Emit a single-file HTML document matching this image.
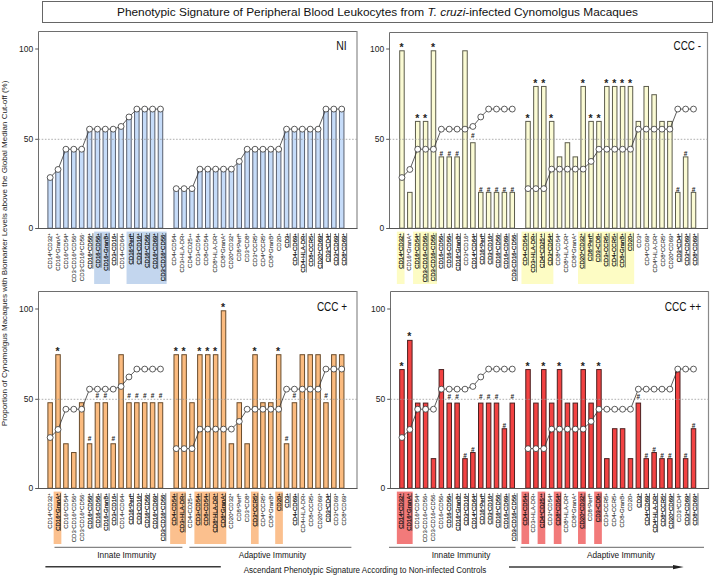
<!DOCTYPE html>
<html><head><meta charset="utf-8"><style>
html,body{margin:0;padding:0;background:#fff;width:714px;height:575px;overflow:hidden}
svg{display:block}
text{font-family:"Liberation Sans", sans-serif}
</style></head><body>
<svg width="714" height="575" viewBox="0 0 714 575" font-family='"Liberation Sans", sans-serif'>
<rect width="714" height="575" fill="#fff"/>
<rect x="42.5" y="1.5" width="670" height="21" fill="#fff" stroke="#666" stroke-width="1"/>
<text x="117" y="16" font-size="11.8" fill="#111" textLength="521" lengthAdjust="spacingAndGlyphs">Phenotypic Signature of Peripheral Blood Leukocytes from <tspan font-style="italic">T. cruzi</tspan>-infected Cynomolgus Macaques</text>
<text transform="translate(6.8,253.4) rotate(-90)" text-anchor="middle" font-size="7.7" fill="#222" textLength="345.6" lengthAdjust="spacingAndGlyphs">Proportion of Cynomolgus Macaques with Biomarker Levels above the Global Median Cut-off (%)</text>
<rect x="94.15" y="231.60" width="15.80" height="52.40" fill="#c3d6ee"/>
<rect x="126.55" y="231.60" width="40.10" height="52.40" fill="#c3d6ee"/>
<path d="M38.5,228.5 L38.5,31.5 L357,31.5" fill="none" stroke="#6e6e6e" stroke-width="1"/>
<line x1="357" y1="31.0" x2="357" y2="228.5" stroke="#8a8a8a" stroke-width="1.2"/>
<line x1="35.2" y1="228.50" x2="38.5" y2="228.50" stroke="#444" stroke-width="0.9"/>
<text x="33.30" y="231.10" text-anchor="end" font-size="8.5" fill="#222">0</text>
<line x1="35.2" y1="139.30" x2="38.5" y2="139.30" stroke="#444" stroke-width="0.9"/>
<text x="33.30" y="141.90" text-anchor="end" font-size="8.5" fill="#222">50</text>
<line x1="35.2" y1="49.00" x2="38.5" y2="49.00" stroke="#444" stroke-width="0.9"/>
<text x="33.30" y="51.60" text-anchor="end" font-size="8.5" fill="#222">100</text>
<rect x="47.90" y="177.13" width="4.50" height="51.07" fill="#c6dcf9" stroke="#596070" stroke-width="1"/>
<rect x="55.78" y="169.06" width="4.50" height="59.14" fill="#c6dcf9" stroke="#596070" stroke-width="1"/>
<rect x="63.66" y="148.81" width="4.50" height="79.39" fill="#c6dcf9" stroke="#596070" stroke-width="1"/>
<rect x="71.54" y="148.81" width="4.50" height="79.39" fill="#c6dcf9" stroke="#596070" stroke-width="1"/>
<rect x="79.42" y="148.81" width="4.50" height="79.39" fill="#c6dcf9" stroke="#596070" stroke-width="1"/>
<rect x="87.30" y="128.74" width="4.50" height="99.46" fill="#c6dcf9" stroke="#596070" stroke-width="1"/>
<rect x="95.18" y="128.74" width="4.50" height="99.46" fill="#c6dcf9" stroke="#596070" stroke-width="1"/>
<rect x="103.06" y="128.74" width="4.50" height="99.46" fill="#c6dcf9" stroke="#596070" stroke-width="1"/>
<rect x="110.94" y="128.74" width="4.50" height="99.46" fill="#c6dcf9" stroke="#596070" stroke-width="1"/>
<rect x="118.82" y="126.06" width="4.50" height="102.14" fill="#c6dcf9" stroke="#596070" stroke-width="1"/>
<rect x="126.70" y="116.56" width="4.50" height="111.64" fill="#c6dcf9" stroke="#596070" stroke-width="1"/>
<rect x="134.58" y="108.67" width="4.50" height="119.53" fill="#c6dcf9" stroke="#596070" stroke-width="1"/>
<rect x="142.46" y="108.67" width="4.50" height="119.53" fill="#c6dcf9" stroke="#596070" stroke-width="1"/>
<rect x="150.34" y="108.67" width="4.50" height="119.53" fill="#c6dcf9" stroke="#596070" stroke-width="1"/>
<rect x="158.22" y="108.67" width="4.50" height="119.53" fill="#c6dcf9" stroke="#596070" stroke-width="1"/>
<rect x="173.98" y="188.24" width="4.50" height="39.96" fill="#c6dcf9" stroke="#596070" stroke-width="1"/>
<rect x="181.86" y="188.24" width="4.50" height="39.96" fill="#c6dcf9" stroke="#596070" stroke-width="1"/>
<rect x="189.74" y="188.24" width="4.50" height="39.96" fill="#c6dcf9" stroke="#596070" stroke-width="1"/>
<rect x="197.62" y="168.71" width="4.50" height="59.49" fill="#c6dcf9" stroke="#596070" stroke-width="1"/>
<rect x="205.50" y="168.71" width="4.50" height="59.49" fill="#c6dcf9" stroke="#596070" stroke-width="1"/>
<rect x="213.38" y="168.71" width="4.50" height="59.49" fill="#c6dcf9" stroke="#596070" stroke-width="1"/>
<rect x="221.26" y="168.71" width="4.50" height="59.49" fill="#c6dcf9" stroke="#596070" stroke-width="1"/>
<rect x="229.14" y="168.71" width="4.50" height="59.49" fill="#c6dcf9" stroke="#596070" stroke-width="1"/>
<rect x="237.02" y="161.00" width="4.50" height="67.20" fill="#c6dcf9" stroke="#596070" stroke-width="1"/>
<rect x="244.90" y="148.81" width="4.50" height="79.39" fill="#c6dcf9" stroke="#596070" stroke-width="1"/>
<rect x="252.78" y="148.81" width="4.50" height="79.39" fill="#c6dcf9" stroke="#596070" stroke-width="1"/>
<rect x="260.66" y="148.81" width="4.50" height="79.39" fill="#c6dcf9" stroke="#596070" stroke-width="1"/>
<rect x="268.54" y="148.81" width="4.50" height="79.39" fill="#c6dcf9" stroke="#596070" stroke-width="1"/>
<rect x="276.42" y="148.81" width="4.50" height="79.39" fill="#c6dcf9" stroke="#596070" stroke-width="1"/>
<rect x="284.30" y="128.74" width="4.50" height="99.46" fill="#c6dcf9" stroke="#596070" stroke-width="1"/>
<rect x="292.18" y="128.74" width="4.50" height="99.46" fill="#c6dcf9" stroke="#596070" stroke-width="1"/>
<rect x="300.06" y="128.74" width="4.50" height="99.46" fill="#c6dcf9" stroke="#596070" stroke-width="1"/>
<rect x="307.94" y="128.74" width="4.50" height="99.46" fill="#c6dcf9" stroke="#596070" stroke-width="1"/>
<rect x="315.82" y="128.74" width="4.50" height="99.46" fill="#c6dcf9" stroke="#596070" stroke-width="1"/>
<rect x="323.70" y="108.67" width="4.50" height="119.53" fill="#c6dcf9" stroke="#596070" stroke-width="1"/>
<rect x="331.58" y="108.67" width="4.50" height="119.53" fill="#c6dcf9" stroke="#596070" stroke-width="1"/>
<rect x="339.46" y="108.67" width="4.50" height="119.53" fill="#c6dcf9" stroke="#596070" stroke-width="1"/>
<line x1="38.5" y1="139.30" x2="357" y2="139.30" stroke="#9a9a9a" stroke-width="0.8" stroke-dasharray="1.6,1.6"/>
<line x1="38.0" y1="228.5" x2="357.5" y2="228.5" stroke="#555" stroke-width="1"/>
<polyline points="50.15,177.53 58.03,169.46 65.91,149.21 73.79,149.21 81.67,149.21 89.55,129.14 97.43,129.14 105.31,129.14 113.19,129.14 121.07,126.46 128.95,116.96 136.83,109.07 144.71,109.07 152.59,109.07 160.47,109.07" fill="none" stroke="#333" stroke-width="0.8"/>
<circle cx="50.15" cy="177.53" r="2.95" fill="#fff" stroke="#333" stroke-width="0.8"/>
<circle cx="58.03" cy="169.46" r="2.95" fill="#fff" stroke="#333" stroke-width="0.8"/>
<circle cx="65.91" cy="149.21" r="2.95" fill="#fff" stroke="#333" stroke-width="0.8"/>
<circle cx="73.79" cy="149.21" r="2.95" fill="#fff" stroke="#333" stroke-width="0.8"/>
<circle cx="81.67" cy="149.21" r="2.95" fill="#fff" stroke="#333" stroke-width="0.8"/>
<circle cx="89.55" cy="129.14" r="2.95" fill="#fff" stroke="#333" stroke-width="0.8"/>
<circle cx="97.43" cy="129.14" r="2.95" fill="#fff" stroke="#333" stroke-width="0.8"/>
<circle cx="105.31" cy="129.14" r="2.95" fill="#fff" stroke="#333" stroke-width="0.8"/>
<circle cx="113.19" cy="129.14" r="2.95" fill="#fff" stroke="#333" stroke-width="0.8"/>
<circle cx="121.07" cy="126.46" r="2.95" fill="#fff" stroke="#333" stroke-width="0.8"/>
<circle cx="128.95" cy="116.96" r="2.95" fill="#fff" stroke="#333" stroke-width="0.8"/>
<circle cx="136.83" cy="109.07" r="2.95" fill="#fff" stroke="#333" stroke-width="0.8"/>
<circle cx="144.71" cy="109.07" r="2.95" fill="#fff" stroke="#333" stroke-width="0.8"/>
<circle cx="152.59" cy="109.07" r="2.95" fill="#fff" stroke="#333" stroke-width="0.8"/>
<circle cx="160.47" cy="109.07" r="2.95" fill="#fff" stroke="#333" stroke-width="0.8"/>
<polyline points="176.23,188.64 184.11,188.64 191.99,188.64 199.87,169.11 207.75,169.11 215.63,169.11 223.51,169.11 231.39,169.11 239.27,161.40 247.15,149.21 255.03,149.21 262.91,149.21 270.79,149.21 278.67,149.21 286.55,129.14 294.43,129.14 302.31,129.14 310.19,129.14 318.07,129.14 325.95,109.07 333.83,109.07 341.71,109.07" fill="none" stroke="#333" stroke-width="0.8"/>
<circle cx="176.23" cy="188.64" r="2.95" fill="#fff" stroke="#333" stroke-width="0.8"/>
<circle cx="184.11" cy="188.64" r="2.95" fill="#fff" stroke="#333" stroke-width="0.8"/>
<circle cx="191.99" cy="188.64" r="2.95" fill="#fff" stroke="#333" stroke-width="0.8"/>
<circle cx="199.87" cy="169.11" r="2.95" fill="#fff" stroke="#333" stroke-width="0.8"/>
<circle cx="207.75" cy="169.11" r="2.95" fill="#fff" stroke="#333" stroke-width="0.8"/>
<circle cx="215.63" cy="169.11" r="2.95" fill="#fff" stroke="#333" stroke-width="0.8"/>
<circle cx="223.51" cy="169.11" r="2.95" fill="#fff" stroke="#333" stroke-width="0.8"/>
<circle cx="231.39" cy="169.11" r="2.95" fill="#fff" stroke="#333" stroke-width="0.8"/>
<circle cx="239.27" cy="161.40" r="2.95" fill="#fff" stroke="#333" stroke-width="0.8"/>
<circle cx="247.15" cy="149.21" r="2.95" fill="#fff" stroke="#333" stroke-width="0.8"/>
<circle cx="255.03" cy="149.21" r="2.95" fill="#fff" stroke="#333" stroke-width="0.8"/>
<circle cx="262.91" cy="149.21" r="2.95" fill="#fff" stroke="#333" stroke-width="0.8"/>
<circle cx="270.79" cy="149.21" r="2.95" fill="#fff" stroke="#333" stroke-width="0.8"/>
<circle cx="278.67" cy="149.21" r="2.95" fill="#fff" stroke="#333" stroke-width="0.8"/>
<circle cx="286.55" cy="129.14" r="2.95" fill="#fff" stroke="#333" stroke-width="0.8"/>
<circle cx="294.43" cy="129.14" r="2.95" fill="#fff" stroke="#333" stroke-width="0.8"/>
<circle cx="302.31" cy="129.14" r="2.95" fill="#fff" stroke="#333" stroke-width="0.8"/>
<circle cx="310.19" cy="129.14" r="2.95" fill="#fff" stroke="#333" stroke-width="0.8"/>
<circle cx="318.07" cy="129.14" r="2.95" fill="#fff" stroke="#333" stroke-width="0.8"/>
<circle cx="325.95" cy="109.07" r="2.95" fill="#fff" stroke="#333" stroke-width="0.8"/>
<circle cx="333.83" cy="109.07" r="2.95" fill="#fff" stroke="#333" stroke-width="0.8"/>
<circle cx="341.71" cy="109.07" r="2.95" fill="#fff" stroke="#333" stroke-width="0.8"/>
<text transform="translate(51.50,233.20) rotate(-90)" text-anchor="end" font-size="6" fill="#3c3c3c" stroke="#3c3c3c" stroke-width="0.12"><tspan>CD14</tspan><tspan dy="-1.60" font-size="4.20">+</tspan><tspan dy="1.60">CD32</tspan><tspan dy="-1.60" font-size="4.20">+</tspan><tspan dy="1.60"></tspan></text>
<text transform="translate(59.60,233.20) rotate(-90)" text-anchor="end" font-size="6" fill="#3c3c3c" stroke="#3c3c3c" stroke-width="0.12"><tspan>CD16</tspan><tspan dy="-1.60" font-size="4.20">+</tspan><tspan dy="1.60">GranA</tspan><tspan dy="-1.60" font-size="4.20">+</tspan><tspan dy="1.60"></tspan></text>
<text transform="translate(67.70,233.20) rotate(-90)" text-anchor="end" font-size="6" fill="#3c3c3c" stroke="#3c3c3c" stroke-width="0.12"><tspan>CD16</tspan><tspan dy="-1.60" font-size="4.20">+</tspan><tspan dy="1.60">CD54</tspan><tspan dy="-1.60" font-size="4.20">+</tspan><tspan dy="1.60"></tspan></text>
<text transform="translate(75.80,233.20) rotate(-90)" text-anchor="end" font-size="6" fill="#3c3c3c" stroke="#3c3c3c" stroke-width="0.12"><tspan>CD3</tspan><tspan dy="-1.60" font-size="4.20">-</tspan><tspan dy="1.60">CD16</tspan><tspan dy="-1.60" font-size="4.20">+</tspan><tspan dy="1.60">CD56</tspan><tspan dy="-1.60" font-size="4.20">+</tspan><tspan dy="1.60"></tspan></text>
<text transform="translate(83.90,233.20) rotate(-90)" text-anchor="end" font-size="6" fill="#3c3c3c" stroke="#3c3c3c" stroke-width="0.12"><tspan>CD3</tspan><tspan dy="-1.60" font-size="4.20">-</tspan><tspan dy="1.60">CD16</tspan><tspan dy="-1.60" font-size="4.20">+</tspan><tspan dy="1.60">CD56</tspan><tspan dy="-1.60" font-size="4.20">-</tspan><tspan dy="1.60"></tspan></text>
<text transform="translate(92.00,233.20) rotate(-90)" text-anchor="end" font-size="6" fill="#111" stroke="#111" stroke-width="0.2"><tspan>CD16</tspan><tspan dy="-1.60" font-size="4.20">+</tspan><tspan dy="1.60">CD56</tspan><tspan dy="-1.60" font-size="4.20">+</tspan><tspan dy="1.60"></tspan></text><line x1="92.90" y1="233.20" x2="92.90" y2="268.79" stroke="#111" stroke-width="0.6"/>
<text transform="translate(100.10,233.20) rotate(-90)" text-anchor="end" font-size="6" fill="#111" stroke="#111" stroke-width="0.2"><tspan>CD16</tspan><tspan dy="-1.60" font-size="4.20">-</tspan><tspan dy="1.60">CD56</tspan><tspan dy="-1.60" font-size="4.20">+</tspan><tspan dy="1.60"></tspan></text><line x1="101.00" y1="233.20" x2="101.00" y2="267.73" stroke="#111" stroke-width="0.6"/>
<text transform="translate(108.20,233.20) rotate(-90)" text-anchor="end" font-size="6" fill="#111" stroke="#111" stroke-width="0.2"><tspan>CD16</tspan><tspan dy="-1.60" font-size="4.20">+</tspan><tspan dy="1.60">GranB</tspan><tspan dy="-1.60" font-size="4.20">+</tspan><tspan dy="1.60"></tspan></text><line x1="109.10" y1="233.20" x2="109.10" y2="270.79" stroke="#111" stroke-width="0.6"/>
<text transform="translate(116.30,233.20) rotate(-90)" text-anchor="end" font-size="6" fill="#111" stroke="#111" stroke-width="0.2"><tspan>CD3</tspan><tspan dy="-1.60" font-size="4.20">+</tspan><tspan dy="1.60">CD16</tspan><tspan dy="-1.60" font-size="4.20">+</tspan><tspan dy="1.60"></tspan></text><line x1="117.20" y1="233.20" x2="117.20" y2="265.45" stroke="#111" stroke-width="0.6"/>
<text transform="translate(124.40,233.20) rotate(-90)" text-anchor="end" font-size="6" fill="#3c3c3c" stroke="#3c3c3c" stroke-width="0.12"><tspan>CD14</tspan><tspan dy="-1.60" font-size="4.20">+</tspan><tspan dy="1.60">CD64</tspan><tspan dy="-1.60" font-size="4.20">+</tspan><tspan dy="1.60"></tspan></text>
<text transform="translate(132.50,233.20) rotate(-90)" text-anchor="end" font-size="6" fill="#111" stroke="#111" stroke-width="0.2"><tspan>CD16</tspan><tspan dy="-1.60" font-size="4.20">+</tspan><tspan dy="1.60">Perf</tspan><tspan dy="-1.60" font-size="4.20">+</tspan><tspan dy="1.60"></tspan></text><line x1="133.40" y1="233.20" x2="133.40" y2="264.45" stroke="#111" stroke-width="0.6"/>
<text transform="translate(140.60,233.20) rotate(-90)" text-anchor="end" font-size="6" fill="#111" stroke="#111" stroke-width="0.2"><tspan>CD3</tspan><tspan dy="-1.60" font-size="4.20">-</tspan><tspan dy="1.60">CD16</tspan><tspan dy="-1.60" font-size="4.20">+</tspan><tspan dy="1.60"></tspan></text><line x1="141.50" y1="233.20" x2="141.50" y2="264.39" stroke="#111" stroke-width="0.6"/>
<text transform="translate(148.70,233.20) rotate(-90)" text-anchor="end" font-size="6" fill="#111" stroke="#111" stroke-width="0.2"><tspan>CD16</tspan><tspan dy="-1.60" font-size="4.20">+</tspan><tspan dy="1.60">CD56</tspan><tspan dy="-1.60" font-size="4.20">-</tspan><tspan dy="1.60"></tspan></text><line x1="149.60" y1="233.20" x2="149.60" y2="267.73" stroke="#111" stroke-width="0.6"/>
<text transform="translate(156.80,233.20) rotate(-90)" text-anchor="end" font-size="6" fill="#111" stroke="#111" stroke-width="0.2"><tspan>CD16</tspan><tspan dy="-1.60" font-size="4.20">+</tspan><tspan dy="1.60">CD69</tspan><tspan dy="-1.60" font-size="4.20">+</tspan><tspan dy="1.60"></tspan></text><line x1="157.70" y1="233.20" x2="157.70" y2="268.79" stroke="#111" stroke-width="0.6"/>
<text transform="translate(164.90,233.20) rotate(-90)" text-anchor="end" font-size="6" fill="#111" stroke="#111" stroke-width="0.2"><tspan>CD3</tspan><tspan dy="-1.60" font-size="4.20">-</tspan><tspan dy="1.60">CD16</tspan><tspan dy="-1.60" font-size="4.20">+</tspan><tspan dy="1.60">CD56</tspan><tspan dy="-1.60" font-size="4.20">-</tspan><tspan dy="1.60"></tspan></text><line x1="165.80" y1="233.20" x2="165.80" y2="281.13" stroke="#111" stroke-width="0.6"/>
<text transform="translate(176.10,233.20) rotate(-90)" text-anchor="end" font-size="6" fill="#3c3c3c" stroke="#3c3c3c" stroke-width="0.12"><tspan>CD4</tspan><tspan dy="-1.60" font-size="4.20">+</tspan><tspan dy="1.60">CD54</tspan><tspan dy="-1.60" font-size="4.20">+</tspan><tspan dy="1.60"></tspan></text>
<text transform="translate(184.18,233.20) rotate(-90)" text-anchor="end" font-size="6" fill="#3c3c3c" stroke="#3c3c3c" stroke-width="0.12"><tspan>CD3</tspan><tspan dy="-1.60" font-size="4.20">+</tspan><tspan dy="1.60">HLA-DR</tspan><tspan dy="-1.60" font-size="4.20">+</tspan><tspan dy="1.60"></tspan></text>
<text transform="translate(192.26,233.20) rotate(-90)" text-anchor="end" font-size="6" fill="#3c3c3c" stroke="#3c3c3c" stroke-width="0.12"><tspan>CD4</tspan><tspan dy="-1.60" font-size="4.20">+</tspan><tspan dy="1.60">CD25</tspan><tspan dy="-1.60" font-size="4.20">++</tspan><tspan dy="1.60"></tspan></text>
<text transform="translate(200.34,233.20) rotate(-90)" text-anchor="end" font-size="6" fill="#3c3c3c" stroke="#3c3c3c" stroke-width="0.12"><tspan>CD3</tspan><tspan dy="-1.60" font-size="4.20">+</tspan><tspan dy="1.60">CD54</tspan><tspan dy="-1.60" font-size="4.20">+</tspan><tspan dy="1.60"></tspan></text>
<text transform="translate(208.42,233.20) rotate(-90)" text-anchor="end" font-size="6" fill="#3c3c3c" stroke="#3c3c3c" stroke-width="0.12"><tspan>CD8</tspan><tspan dy="-1.60" font-size="4.20">+</tspan><tspan dy="1.60">CD54</tspan><tspan dy="-1.60" font-size="4.20">+</tspan><tspan dy="1.60"></tspan></text>
<text transform="translate(216.50,233.20) rotate(-90)" text-anchor="end" font-size="6" fill="#3c3c3c" stroke="#3c3c3c" stroke-width="0.12"><tspan>CD8</tspan><tspan dy="-1.60" font-size="4.20">+</tspan><tspan dy="1.60">HLA-DR</tspan><tspan dy="-1.60" font-size="4.20">+</tspan><tspan dy="1.60"></tspan></text>
<text transform="translate(224.58,233.20) rotate(-90)" text-anchor="end" font-size="6" fill="#3c3c3c" stroke="#3c3c3c" stroke-width="0.12"><tspan>CD8</tspan><tspan dy="-1.60" font-size="4.20">+</tspan><tspan dy="1.60">GranA</tspan><tspan dy="-1.60" font-size="4.20">+</tspan><tspan dy="1.60"></tspan></text>
<text transform="translate(232.66,233.20) rotate(-90)" text-anchor="end" font-size="6" fill="#3c3c3c" stroke="#3c3c3c" stroke-width="0.12"><tspan>CD20</tspan><tspan dy="-1.60" font-size="4.20">+</tspan><tspan dy="1.60">CD32</tspan><tspan dy="-1.60" font-size="4.20">+</tspan><tspan dy="1.60"></tspan></text>
<text transform="translate(240.74,233.20) rotate(-90)" text-anchor="end" font-size="6" fill="#3c3c3c" stroke="#3c3c3c" stroke-width="0.12"><tspan>CD8</tspan><tspan dy="-1.60" font-size="4.20">+</tspan><tspan dy="1.60">Perf</tspan><tspan dy="-1.60" font-size="4.20">+</tspan><tspan dy="1.60"></tspan></text>
<text transform="translate(248.82,233.20) rotate(-90)" text-anchor="end" font-size="6" fill="#3c3c3c" stroke="#3c3c3c" stroke-width="0.12"><tspan>CD3</tspan><tspan dy="-1.60" font-size="4.20">+</tspan><tspan dy="1.60">CD8</tspan><tspan dy="-1.60" font-size="4.20">+</tspan><tspan dy="1.60"></tspan></text>
<text transform="translate(256.90,233.20) rotate(-90)" text-anchor="end" font-size="6" fill="#3c3c3c" stroke="#3c3c3c" stroke-width="0.12"><tspan>CD3</tspan><tspan dy="-1.60" font-size="4.20">+</tspan><tspan dy="1.60">CCR5</tspan><tspan dy="-1.60" font-size="4.20">+</tspan><tspan dy="1.60"></tspan></text>
<text transform="translate(264.98,233.20) rotate(-90)" text-anchor="end" font-size="6" fill="#3c3c3c" stroke="#3c3c3c" stroke-width="0.12"><tspan>CD4</tspan><tspan dy="-1.60" font-size="4.20">+</tspan><tspan dy="1.60">CCR5</tspan><tspan dy="-1.60" font-size="4.20">+</tspan><tspan dy="1.60"></tspan></text>
<text transform="translate(273.06,233.20) rotate(-90)" text-anchor="end" font-size="6" fill="#3c3c3c" stroke="#3c3c3c" stroke-width="0.12"><tspan>CD8</tspan><tspan dy="-1.60" font-size="4.20">+</tspan><tspan dy="1.60">GranB</tspan><tspan dy="-1.60" font-size="4.20">+</tspan><tspan dy="1.60"></tspan></text>
<text transform="translate(281.14,233.20) rotate(-90)" text-anchor="end" font-size="6" fill="#3c3c3c" stroke="#3c3c3c" stroke-width="0.12"><tspan>CD20</tspan><tspan dy="-1.60" font-size="4.20">+</tspan><tspan dy="1.60"></tspan></text>
<text transform="translate(289.22,233.20) rotate(-90)" text-anchor="end" font-size="6" fill="#111" stroke="#111" stroke-width="0.2"><tspan>CD3</tspan><tspan dy="-1.60" font-size="4.20">+</tspan><tspan dy="1.60"></tspan></text><line x1="290.12" y1="233.20" x2="290.12" y2="247.66" stroke="#111" stroke-width="0.6"/>
<text transform="translate(297.30,233.20) rotate(-90)" text-anchor="end" font-size="6" fill="#111" stroke="#111" stroke-width="0.2"><tspan>CD4</tspan><tspan dy="-1.60" font-size="4.20">+</tspan><tspan dy="1.60">CD69</tspan><tspan dy="-1.60" font-size="4.20">+</tspan><tspan dy="1.60"></tspan></text><line x1="298.20" y1="233.20" x2="298.20" y2="265.45" stroke="#111" stroke-width="0.6"/>
<text transform="translate(305.38,233.20) rotate(-90)" text-anchor="end" font-size="6" fill="#111" stroke="#111" stroke-width="0.2"><tspan>CD4</tspan><tspan dy="-1.60" font-size="4.20">+</tspan><tspan dy="1.60">HLA-DR</tspan><tspan dy="-1.60" font-size="4.20">+</tspan><tspan dy="1.60"></tspan></text><line x1="306.28" y1="233.20" x2="306.28" y2="272.44" stroke="#111" stroke-width="0.6"/>
<text transform="translate(313.46,233.20) rotate(-90)" text-anchor="end" font-size="6" fill="#111" stroke="#111" stroke-width="0.2"><tspan>CD8</tspan><tspan dy="-1.60" font-size="4.20">+</tspan><tspan dy="1.60">CCR5</tspan><tspan dy="-1.60" font-size="4.20">+</tspan><tspan dy="1.60"></tspan></text><line x1="314.36" y1="233.20" x2="314.36" y2="266.44" stroke="#111" stroke-width="0.6"/>
<text transform="translate(321.54,233.20) rotate(-90)" text-anchor="end" font-size="6" fill="#111" stroke="#111" stroke-width="0.2"><tspan>CD20</tspan><tspan dy="-1.60" font-size="4.20">+</tspan><tspan dy="1.60">CD69</tspan><tspan dy="-1.60" font-size="4.20">+</tspan><tspan dy="1.60"></tspan></text><line x1="322.44" y1="233.20" x2="322.44" y2="268.79" stroke="#111" stroke-width="0.6"/>
<text transform="translate(329.62,233.20) rotate(-90)" text-anchor="end" font-size="6" fill="#111" stroke="#111" stroke-width="0.2"><tspan>CD3</tspan><tspan dy="-1.60" font-size="4.20">+</tspan><tspan dy="1.60">CD4</tspan><tspan dy="-1.60" font-size="4.20">+</tspan><tspan dy="1.60"></tspan></text><line x1="330.52" y1="233.20" x2="330.52" y2="262.11" stroke="#111" stroke-width="0.6"/>
<text transform="translate(337.70,233.20) rotate(-90)" text-anchor="end" font-size="6" fill="#111" stroke="#111" stroke-width="0.2"><tspan>CD3</tspan><tspan dy="-1.60" font-size="4.20">+</tspan><tspan dy="1.60">CD69</tspan><tspan dy="-1.60" font-size="4.20">+</tspan><tspan dy="1.60"></tspan></text><line x1="338.60" y1="233.20" x2="338.60" y2="265.45" stroke="#111" stroke-width="0.6"/>
<text transform="translate(345.78,233.20) rotate(-90)" text-anchor="end" font-size="6" fill="#111" stroke="#111" stroke-width="0.2"><tspan>CD8</tspan><tspan dy="-1.60" font-size="4.20">+</tspan><tspan dy="1.60">CD69</tspan><tspan dy="-1.60" font-size="4.20">+</tspan><tspan dy="1.60"></tspan></text><line x1="346.68" y1="233.20" x2="346.68" y2="265.45" stroke="#111" stroke-width="0.6"/>
<text x="336.2" y="50.4" font-size="12.2" fill="#111" textLength="10.5" lengthAdjust="spacingAndGlyphs">NI</text>
<rect x="396.85" y="231.60" width="7.70" height="52.40" fill="#fdfcc4"/>
<rect x="413.05" y="231.60" width="23.90" height="52.40" fill="#fdfcc4"/>
<rect x="521.46" y="231.60" width="31.92" height="52.40" fill="#fdfcc4"/>
<rect x="578.02" y="231.60" width="56.16" height="52.40" fill="#fdfcc4"/>
<path d="M389.5,228.5 L389.5,32.5 L707.5,32.5" fill="none" stroke="#6e6e6e" stroke-width="1"/>
<line x1="707.5" y1="32.0" x2="707.5" y2="228.5" stroke="#8a8a8a" stroke-width="1.2"/>
<line x1="386.2" y1="228.50" x2="389.5" y2="228.50" stroke="#444" stroke-width="0.9"/>
<text x="384.30" y="231.10" text-anchor="end" font-size="8.5" fill="#222">0</text>
<line x1="386.2" y1="139.30" x2="389.5" y2="139.30" stroke="#444" stroke-width="0.9"/>
<text x="384.30" y="141.90" text-anchor="end" font-size="8.5" fill="#222">50</text>
<line x1="386.2" y1="49.00" x2="389.5" y2="49.00" stroke="#444" stroke-width="0.9"/>
<text x="384.30" y="51.60" text-anchor="end" font-size="8.5" fill="#222">100</text>
<rect x="399.70" y="50.79" width="4.50" height="177.41" fill="#fbfbd4" stroke="#5c5c4c" stroke-width="1"/>
<text x="401.45" y="50.89" text-anchor="middle" font-size="10.5" font-weight="bold" fill="#222">*</text>
<rect x="407.58" y="192.36" width="4.50" height="35.84" fill="#fbfbd4" stroke="#5c5c4c" stroke-width="1"/>
<rect x="415.46" y="121.40" width="4.50" height="106.80" fill="#fbfbd4" stroke="#5c5c4c" stroke-width="1"/>
<text x="417.21" y="121.50" text-anchor="middle" font-size="10.5" font-weight="bold" fill="#222">*</text>
<rect x="423.34" y="121.40" width="4.50" height="106.80" fill="#fbfbd4" stroke="#5c5c4c" stroke-width="1"/>
<text x="425.09" y="121.50" text-anchor="middle" font-size="10.5" font-weight="bold" fill="#222">*</text>
<rect x="431.22" y="50.79" width="4.50" height="177.41" fill="#fbfbd4" stroke="#5c5c4c" stroke-width="1"/>
<text x="432.97" y="50.89" text-anchor="middle" font-size="10.5" font-weight="bold" fill="#222">*</text>
<rect x="439.10" y="156.88" width="4.50" height="71.32" fill="#fbfbd4" stroke="#5c5c4c" stroke-width="1"/>
<text x="441.35" y="156.38" text-anchor="middle" font-size="6.5" font-weight="bold" fill="#222">#</text>
<rect x="446.98" y="156.88" width="4.50" height="71.32" fill="#fbfbd4" stroke="#5c5c4c" stroke-width="1"/>
<text x="449.23" y="156.38" text-anchor="middle" font-size="6.5" font-weight="bold" fill="#222">#</text>
<rect x="454.86" y="156.88" width="4.50" height="71.32" fill="#fbfbd4" stroke="#5c5c4c" stroke-width="1"/>
<text x="457.11" y="156.38" text-anchor="middle" font-size="6.5" font-weight="bold" fill="#222">#</text>
<rect x="462.74" y="50.79" width="4.50" height="177.41" fill="#fbfbd4" stroke="#5c5c4c" stroke-width="1"/>
<rect x="470.62" y="142.72" width="4.50" height="85.48" fill="#fbfbd4" stroke="#5c5c4c" stroke-width="1"/>
<text x="472.87" y="138.22" text-anchor="middle" font-size="6.5" font-weight="bold" fill="#222">#</text>
<rect x="478.50" y="192.36" width="4.50" height="35.84" fill="#fbfbd4" stroke="#5c5c4c" stroke-width="1"/>
<text x="480.75" y="191.86" text-anchor="middle" font-size="6.5" font-weight="bold" fill="#222">#</text>
<rect x="486.38" y="192.36" width="4.50" height="35.84" fill="#fbfbd4" stroke="#5c5c4c" stroke-width="1"/>
<text x="488.63" y="191.86" text-anchor="middle" font-size="6.5" font-weight="bold" fill="#222">#</text>
<rect x="494.26" y="192.36" width="4.50" height="35.84" fill="#fbfbd4" stroke="#5c5c4c" stroke-width="1"/>
<text x="496.51" y="191.86" text-anchor="middle" font-size="6.5" font-weight="bold" fill="#222">#</text>
<rect x="502.14" y="192.36" width="4.50" height="35.84" fill="#fbfbd4" stroke="#5c5c4c" stroke-width="1"/>
<text x="504.39" y="191.86" text-anchor="middle" font-size="6.5" font-weight="bold" fill="#222">#</text>
<rect x="510.02" y="192.36" width="4.50" height="35.84" fill="#fbfbd4" stroke="#5c5c4c" stroke-width="1"/>
<text x="512.27" y="191.86" text-anchor="middle" font-size="6.5" font-weight="bold" fill="#222">#</text>
<rect x="525.78" y="121.40" width="4.50" height="106.80" fill="#fbfbd4" stroke="#5c5c4c" stroke-width="1"/>
<text x="527.53" y="121.50" text-anchor="middle" font-size="10.5" font-weight="bold" fill="#222">*</text>
<rect x="533.66" y="86.45" width="4.50" height="141.75" fill="#fbfbd4" stroke="#5c5c4c" stroke-width="1"/>
<text x="535.41" y="86.55" text-anchor="middle" font-size="10.5" font-weight="bold" fill="#222">*</text>
<rect x="541.54" y="86.45" width="4.50" height="141.75" fill="#fbfbd4" stroke="#5c5c4c" stroke-width="1"/>
<text x="543.29" y="86.55" text-anchor="middle" font-size="10.5" font-weight="bold" fill="#222">*</text>
<rect x="549.42" y="121.40" width="4.50" height="106.80" fill="#fbfbd4" stroke="#5c5c4c" stroke-width="1"/>
<text x="551.17" y="121.50" text-anchor="middle" font-size="10.5" font-weight="bold" fill="#222">*</text>
<rect x="557.30" y="156.88" width="4.50" height="71.32" fill="#fbfbd4" stroke="#5c5c4c" stroke-width="1"/>
<rect x="565.18" y="142.72" width="4.50" height="85.48" fill="#fbfbd4" stroke="#5c5c4c" stroke-width="1"/>
<rect x="573.06" y="156.88" width="4.50" height="71.32" fill="#fbfbd4" stroke="#5c5c4c" stroke-width="1"/>
<rect x="580.94" y="86.45" width="4.50" height="141.75" fill="#fbfbd4" stroke="#5c5c4c" stroke-width="1"/>
<text x="582.69" y="86.55" text-anchor="middle" font-size="10.5" font-weight="bold" fill="#222">*</text>
<rect x="588.82" y="121.40" width="4.50" height="106.80" fill="#fbfbd4" stroke="#5c5c4c" stroke-width="1"/>
<text x="590.57" y="121.50" text-anchor="middle" font-size="10.5" font-weight="bold" fill="#222">*</text>
<rect x="596.70" y="121.40" width="4.50" height="106.80" fill="#fbfbd4" stroke="#5c5c4c" stroke-width="1"/>
<text x="598.45" y="121.50" text-anchor="middle" font-size="10.5" font-weight="bold" fill="#222">*</text>
<rect x="604.58" y="86.45" width="4.50" height="141.75" fill="#fbfbd4" stroke="#5c5c4c" stroke-width="1"/>
<text x="606.33" y="86.55" text-anchor="middle" font-size="10.5" font-weight="bold" fill="#222">*</text>
<rect x="612.46" y="86.45" width="4.50" height="141.75" fill="#fbfbd4" stroke="#5c5c4c" stroke-width="1"/>
<text x="614.21" y="86.55" text-anchor="middle" font-size="10.5" font-weight="bold" fill="#222">*</text>
<rect x="620.34" y="86.45" width="4.50" height="141.75" fill="#fbfbd4" stroke="#5c5c4c" stroke-width="1"/>
<text x="622.09" y="86.55" text-anchor="middle" font-size="10.5" font-weight="bold" fill="#222">*</text>
<rect x="628.22" y="86.45" width="4.50" height="141.75" fill="#fbfbd4" stroke="#5c5c4c" stroke-width="1"/>
<text x="629.97" y="86.55" text-anchor="middle" font-size="10.5" font-weight="bold" fill="#222">*</text>
<rect x="636.10" y="121.40" width="4.50" height="106.80" fill="#fbfbd4" stroke="#5c5c4c" stroke-width="1"/>
<rect x="643.98" y="86.45" width="4.50" height="141.75" fill="#fbfbd4" stroke="#5c5c4c" stroke-width="1"/>
<rect x="651.86" y="94.70" width="4.50" height="133.50" fill="#fbfbd4" stroke="#5c5c4c" stroke-width="1"/>
<rect x="659.74" y="121.40" width="4.50" height="106.80" fill="#fbfbd4" stroke="#5c5c4c" stroke-width="1"/>
<rect x="667.62" y="121.40" width="4.50" height="106.80" fill="#fbfbd4" stroke="#5c5c4c" stroke-width="1"/>
<rect x="675.50" y="192.36" width="4.50" height="35.84" fill="#fbfbd4" stroke="#5c5c4c" stroke-width="1"/>
<text x="677.75" y="191.86" text-anchor="middle" font-size="6.5" font-weight="bold" fill="#222">#</text>
<rect x="683.38" y="156.88" width="4.50" height="71.32" fill="#fbfbd4" stroke="#5c5c4c" stroke-width="1"/>
<text x="685.63" y="156.38" text-anchor="middle" font-size="6.5" font-weight="bold" fill="#222">#</text>
<rect x="691.26" y="192.36" width="4.50" height="35.84" fill="#fbfbd4" stroke="#5c5c4c" stroke-width="1"/>
<text x="693.51" y="191.86" text-anchor="middle" font-size="6.5" font-weight="bold" fill="#222">#</text>
<line x1="389.5" y1="139.30" x2="707.5" y2="139.30" stroke="#9a9a9a" stroke-width="0.8" stroke-dasharray="1.6,1.6"/>
<line x1="389.0" y1="228.5" x2="708.0" y2="228.5" stroke="#555" stroke-width="1"/>
<polyline points="401.95,177.53 409.83,169.46 417.71,149.21 425.59,149.21 433.47,149.21 441.35,129.14 449.23,129.14 457.11,129.14 464.99,129.14 472.87,126.46 480.75,116.96 488.63,109.07 496.51,109.07 504.39,109.07 512.27,109.07" fill="none" stroke="#333" stroke-width="0.8"/>
<circle cx="401.95" cy="177.53" r="2.95" fill="#fff" stroke="#333" stroke-width="0.8"/>
<circle cx="409.83" cy="169.46" r="2.95" fill="#fff" stroke="#333" stroke-width="0.8"/>
<circle cx="417.71" cy="149.21" r="2.95" fill="#fff" stroke="#333" stroke-width="0.8"/>
<circle cx="425.59" cy="149.21" r="2.95" fill="#fff" stroke="#333" stroke-width="0.8"/>
<circle cx="433.47" cy="149.21" r="2.95" fill="#fff" stroke="#333" stroke-width="0.8"/>
<circle cx="441.35" cy="129.14" r="2.95" fill="#fff" stroke="#333" stroke-width="0.8"/>
<circle cx="449.23" cy="129.14" r="2.95" fill="#fff" stroke="#333" stroke-width="0.8"/>
<circle cx="457.11" cy="129.14" r="2.95" fill="#fff" stroke="#333" stroke-width="0.8"/>
<circle cx="464.99" cy="129.14" r="2.95" fill="#fff" stroke="#333" stroke-width="0.8"/>
<circle cx="472.87" cy="126.46" r="2.95" fill="#fff" stroke="#333" stroke-width="0.8"/>
<circle cx="480.75" cy="116.96" r="2.95" fill="#fff" stroke="#333" stroke-width="0.8"/>
<circle cx="488.63" cy="109.07" r="2.95" fill="#fff" stroke="#333" stroke-width="0.8"/>
<circle cx="496.51" cy="109.07" r="2.95" fill="#fff" stroke="#333" stroke-width="0.8"/>
<circle cx="504.39" cy="109.07" r="2.95" fill="#fff" stroke="#333" stroke-width="0.8"/>
<circle cx="512.27" cy="109.07" r="2.95" fill="#fff" stroke="#333" stroke-width="0.8"/>
<polyline points="528.03,188.64 535.91,188.64 543.79,188.64 551.67,169.11 559.55,169.11 567.43,169.11 575.31,169.11 583.19,169.11 591.07,161.40 598.95,149.21 606.83,149.21 614.71,149.21 622.59,149.21 630.47,149.21 638.35,129.14 646.23,129.14 654.11,129.14 661.99,129.14 669.87,129.14 677.75,109.07 685.63,109.07 693.51,109.07" fill="none" stroke="#333" stroke-width="0.8"/>
<circle cx="528.03" cy="188.64" r="2.95" fill="#fff" stroke="#333" stroke-width="0.8"/>
<circle cx="535.91" cy="188.64" r="2.95" fill="#fff" stroke="#333" stroke-width="0.8"/>
<circle cx="543.79" cy="188.64" r="2.95" fill="#fff" stroke="#333" stroke-width="0.8"/>
<circle cx="551.67" cy="169.11" r="2.95" fill="#fff" stroke="#333" stroke-width="0.8"/>
<circle cx="559.55" cy="169.11" r="2.95" fill="#fff" stroke="#333" stroke-width="0.8"/>
<circle cx="567.43" cy="169.11" r="2.95" fill="#fff" stroke="#333" stroke-width="0.8"/>
<circle cx="575.31" cy="169.11" r="2.95" fill="#fff" stroke="#333" stroke-width="0.8"/>
<circle cx="583.19" cy="169.11" r="2.95" fill="#fff" stroke="#333" stroke-width="0.8"/>
<circle cx="591.07" cy="161.40" r="2.95" fill="#fff" stroke="#333" stroke-width="0.8"/>
<circle cx="598.95" cy="149.21" r="2.95" fill="#fff" stroke="#333" stroke-width="0.8"/>
<circle cx="606.83" cy="149.21" r="2.95" fill="#fff" stroke="#333" stroke-width="0.8"/>
<circle cx="614.71" cy="149.21" r="2.95" fill="#fff" stroke="#333" stroke-width="0.8"/>
<circle cx="622.59" cy="149.21" r="2.95" fill="#fff" stroke="#333" stroke-width="0.8"/>
<circle cx="630.47" cy="149.21" r="2.95" fill="#fff" stroke="#333" stroke-width="0.8"/>
<circle cx="638.35" cy="129.14" r="2.95" fill="#fff" stroke="#333" stroke-width="0.8"/>
<circle cx="646.23" cy="129.14" r="2.95" fill="#fff" stroke="#333" stroke-width="0.8"/>
<circle cx="654.11" cy="129.14" r="2.95" fill="#fff" stroke="#333" stroke-width="0.8"/>
<circle cx="661.99" cy="129.14" r="2.95" fill="#fff" stroke="#333" stroke-width="0.8"/>
<circle cx="669.87" cy="129.14" r="2.95" fill="#fff" stroke="#333" stroke-width="0.8"/>
<circle cx="677.75" cy="109.07" r="2.95" fill="#fff" stroke="#333" stroke-width="0.8"/>
<circle cx="685.63" cy="109.07" r="2.95" fill="#fff" stroke="#333" stroke-width="0.8"/>
<circle cx="693.51" cy="109.07" r="2.95" fill="#fff" stroke="#333" stroke-width="0.8"/>
<text transform="translate(402.80,233.20) rotate(-90)" text-anchor="end" font-size="6" fill="#111" stroke="#111" stroke-width="0.2"><tspan>CD14</tspan><tspan dy="-1.60" font-size="4.20">+</tspan><tspan dy="1.60">CD32</tspan><tspan dy="-1.60" font-size="4.20">+</tspan><tspan dy="1.60"></tspan></text><line x1="403.70" y1="233.20" x2="403.70" y2="268.79" stroke="#111" stroke-width="0.6"/>
<text transform="translate(410.90,233.20) rotate(-90)" text-anchor="end" font-size="6" fill="#3c3c3c" stroke="#3c3c3c" stroke-width="0.12"><tspan>CD16</tspan><tspan dy="-1.60" font-size="4.20">+</tspan><tspan dy="1.60">GranA</tspan><tspan dy="-1.60" font-size="4.20">+</tspan><tspan dy="1.60"></tspan></text>
<text transform="translate(419.00,233.20) rotate(-90)" text-anchor="end" font-size="6" fill="#111" stroke="#111" stroke-width="0.2"><tspan>CD16</tspan><tspan dy="-1.60" font-size="4.20">+</tspan><tspan dy="1.60">CD54</tspan><tspan dy="-1.60" font-size="4.20">+</tspan><tspan dy="1.60"></tspan></text><line x1="419.90" y1="233.20" x2="419.90" y2="268.79" stroke="#111" stroke-width="0.6"/>
<text transform="translate(427.10,233.20) rotate(-90)" text-anchor="end" font-size="6" fill="#111" stroke="#111" stroke-width="0.2"><tspan>CD3</tspan><tspan dy="-1.60" font-size="4.20">-</tspan><tspan dy="1.60">CD16</tspan><tspan dy="-1.60" font-size="4.20">+</tspan><tspan dy="1.60">CD56</tspan><tspan dy="-1.60" font-size="4.20">+</tspan><tspan dy="1.60"></tspan></text><line x1="428.00" y1="233.20" x2="428.00" y2="282.19" stroke="#111" stroke-width="0.6"/>
<text transform="translate(435.20,233.20) rotate(-90)" text-anchor="end" font-size="6" fill="#111" stroke="#111" stroke-width="0.2"><tspan>CD3</tspan><tspan dy="-1.60" font-size="4.20">-</tspan><tspan dy="1.60">CD16</tspan><tspan dy="-1.60" font-size="4.20">+</tspan><tspan dy="1.60">CD56</tspan><tspan dy="-1.60" font-size="4.20">-</tspan><tspan dy="1.60"></tspan></text><line x1="436.10" y1="233.20" x2="436.10" y2="281.13" stroke="#111" stroke-width="0.6"/>
<text transform="translate(443.30,233.20) rotate(-90)" text-anchor="end" font-size="6" fill="#111" stroke="#111" stroke-width="0.2"><tspan>CD16</tspan><tspan dy="-1.60" font-size="4.20">+</tspan><tspan dy="1.60">CD56</tspan><tspan dy="-1.60" font-size="4.20">+</tspan><tspan dy="1.60"></tspan></text><line x1="444.20" y1="233.20" x2="444.20" y2="268.79" stroke="#111" stroke-width="0.6"/>
<text transform="translate(451.40,233.20) rotate(-90)" text-anchor="end" font-size="6" fill="#111" stroke="#111" stroke-width="0.2"><tspan>CD16</tspan><tspan dy="-1.60" font-size="4.20">-</tspan><tspan dy="1.60">CD56</tspan><tspan dy="-1.60" font-size="4.20">+</tspan><tspan dy="1.60"></tspan></text><line x1="452.30" y1="233.20" x2="452.30" y2="267.73" stroke="#111" stroke-width="0.6"/>
<text transform="translate(459.50,233.20) rotate(-90)" text-anchor="end" font-size="6" fill="#111" stroke="#111" stroke-width="0.2"><tspan>CD16</tspan><tspan dy="-1.60" font-size="4.20">+</tspan><tspan dy="1.60">GranB</tspan><tspan dy="-1.60" font-size="4.20">+</tspan><tspan dy="1.60"></tspan></text><line x1="460.40" y1="233.20" x2="460.40" y2="270.79" stroke="#111" stroke-width="0.6"/>
<text transform="translate(467.60,233.20) rotate(-90)" text-anchor="end" font-size="6" fill="#3c3c3c" stroke="#3c3c3c" stroke-width="0.12"><tspan>CD3</tspan><tspan dy="-1.60" font-size="4.20">+</tspan><tspan dy="1.60">CD16</tspan><tspan dy="-1.60" font-size="4.20">+</tspan><tspan dy="1.60"></tspan></text>
<text transform="translate(475.70,233.20) rotate(-90)" text-anchor="end" font-size="6" fill="#111" stroke="#111" stroke-width="0.2"><tspan>CD14</tspan><tspan dy="-1.60" font-size="4.20">+</tspan><tspan dy="1.60">CD64</tspan><tspan dy="-1.60" font-size="4.20">+</tspan><tspan dy="1.60"></tspan></text><line x1="476.60" y1="233.20" x2="476.60" y2="268.79" stroke="#111" stroke-width="0.6"/>
<text transform="translate(483.80,233.20) rotate(-90)" text-anchor="end" font-size="6" fill="#111" stroke="#111" stroke-width="0.2"><tspan>CD16</tspan><tspan dy="-1.60" font-size="4.20">+</tspan><tspan dy="1.60">Perf</tspan><tspan dy="-1.60" font-size="4.20">+</tspan><tspan dy="1.60"></tspan></text><line x1="484.70" y1="233.20" x2="484.70" y2="264.45" stroke="#111" stroke-width="0.6"/>
<text transform="translate(491.90,233.20) rotate(-90)" text-anchor="end" font-size="6" fill="#111" stroke="#111" stroke-width="0.2"><tspan>CD3</tspan><tspan dy="-1.60" font-size="4.20">-</tspan><tspan dy="1.60">CD16</tspan><tspan dy="-1.60" font-size="4.20">+</tspan><tspan dy="1.60"></tspan></text><line x1="492.80" y1="233.20" x2="492.80" y2="264.39" stroke="#111" stroke-width="0.6"/>
<text transform="translate(500.00,233.20) rotate(-90)" text-anchor="end" font-size="6" fill="#111" stroke="#111" stroke-width="0.2"><tspan>CD16</tspan><tspan dy="-1.60" font-size="4.20">+</tspan><tspan dy="1.60">CD56</tspan><tspan dy="-1.60" font-size="4.20">-</tspan><tspan dy="1.60"></tspan></text><line x1="500.90" y1="233.20" x2="500.90" y2="267.73" stroke="#111" stroke-width="0.6"/>
<text transform="translate(508.10,233.20) rotate(-90)" text-anchor="end" font-size="6" fill="#111" stroke="#111" stroke-width="0.2"><tspan>CD16</tspan><tspan dy="-1.60" font-size="4.20">+</tspan><tspan dy="1.60">CD69</tspan><tspan dy="-1.60" font-size="4.20">+</tspan><tspan dy="1.60"></tspan></text><line x1="509.00" y1="233.20" x2="509.00" y2="268.79" stroke="#111" stroke-width="0.6"/>
<text transform="translate(516.20,233.20) rotate(-90)" text-anchor="end" font-size="6" fill="#111" stroke="#111" stroke-width="0.2"><tspan>CD3</tspan><tspan dy="-1.60" font-size="4.20">-</tspan><tspan dy="1.60">CD16</tspan><tspan dy="-1.60" font-size="4.20">+</tspan><tspan dy="1.60">CD56</tspan><tspan dy="-1.60" font-size="4.20">-</tspan><tspan dy="1.60"></tspan></text><line x1="517.10" y1="233.20" x2="517.10" y2="281.13" stroke="#111" stroke-width="0.6"/>
<text transform="translate(527.40,233.20) rotate(-90)" text-anchor="end" font-size="6" fill="#111" stroke="#111" stroke-width="0.2"><tspan>CD4</tspan><tspan dy="-1.60" font-size="4.20">+</tspan><tspan dy="1.60">CD54</tspan><tspan dy="-1.60" font-size="4.20">+</tspan><tspan dy="1.60"></tspan></text><line x1="528.30" y1="233.20" x2="528.30" y2="265.45" stroke="#111" stroke-width="0.6"/>
<text transform="translate(535.48,233.20) rotate(-90)" text-anchor="end" font-size="6" fill="#111" stroke="#111" stroke-width="0.2"><tspan>CD3</tspan><tspan dy="-1.60" font-size="4.20">+</tspan><tspan dy="1.60">HLA-DR</tspan><tspan dy="-1.60" font-size="4.20">+</tspan><tspan dy="1.60"></tspan></text><line x1="536.38" y1="233.20" x2="536.38" y2="272.44" stroke="#111" stroke-width="0.6"/>
<text transform="translate(543.56,233.20) rotate(-90)" text-anchor="end" font-size="6" fill="#111" stroke="#111" stroke-width="0.2"><tspan>CD4</tspan><tspan dy="-1.60" font-size="4.20">+</tspan><tspan dy="1.60">CD25</tspan><tspan dy="-1.60" font-size="4.20">++</tspan><tspan dy="1.60"></tspan></text><line x1="544.46" y1="233.20" x2="544.46" y2="267.90" stroke="#111" stroke-width="0.6"/>
<text transform="translate(551.64,233.20) rotate(-90)" text-anchor="end" font-size="6" fill="#111" stroke="#111" stroke-width="0.2"><tspan>CD3</tspan><tspan dy="-1.60" font-size="4.20">+</tspan><tspan dy="1.60">CD54</tspan><tspan dy="-1.60" font-size="4.20">+</tspan><tspan dy="1.60"></tspan></text><line x1="552.54" y1="233.20" x2="552.54" y2="265.45" stroke="#111" stroke-width="0.6"/>
<text transform="translate(559.72,233.20) rotate(-90)" text-anchor="end" font-size="6" fill="#3c3c3c" stroke="#3c3c3c" stroke-width="0.12"><tspan>CD8</tspan><tspan dy="-1.60" font-size="4.20">+</tspan><tspan dy="1.60">CD54</tspan><tspan dy="-1.60" font-size="4.20">+</tspan><tspan dy="1.60"></tspan></text>
<text transform="translate(567.80,233.20) rotate(-90)" text-anchor="end" font-size="6" fill="#3c3c3c" stroke="#3c3c3c" stroke-width="0.12"><tspan>CD8</tspan><tspan dy="-1.60" font-size="4.20">+</tspan><tspan dy="1.60">HLA-DR</tspan><tspan dy="-1.60" font-size="4.20">+</tspan><tspan dy="1.60"></tspan></text>
<text transform="translate(575.88,233.20) rotate(-90)" text-anchor="end" font-size="6" fill="#3c3c3c" stroke="#3c3c3c" stroke-width="0.12"><tspan>CD8</tspan><tspan dy="-1.60" font-size="4.20">+</tspan><tspan dy="1.60">GranA</tspan><tspan dy="-1.60" font-size="4.20">+</tspan><tspan dy="1.60"></tspan></text>
<text transform="translate(583.96,233.20) rotate(-90)" text-anchor="end" font-size="6" fill="#111" stroke="#111" stroke-width="0.2"><tspan>CD20</tspan><tspan dy="-1.60" font-size="4.20">+</tspan><tspan dy="1.60">CD32</tspan><tspan dy="-1.60" font-size="4.20">+</tspan><tspan dy="1.60"></tspan></text><line x1="584.86" y1="233.20" x2="584.86" y2="268.79" stroke="#111" stroke-width="0.6"/>
<text transform="translate(592.04,233.20) rotate(-90)" text-anchor="end" font-size="6" fill="#111" stroke="#111" stroke-width="0.2"><tspan>CD8</tspan><tspan dy="-1.60" font-size="4.20">+</tspan><tspan dy="1.60">Perf</tspan><tspan dy="-1.60" font-size="4.20">+</tspan><tspan dy="1.60"></tspan></text><line x1="592.94" y1="233.20" x2="592.94" y2="261.11" stroke="#111" stroke-width="0.6"/>
<text transform="translate(600.12,233.20) rotate(-90)" text-anchor="end" font-size="6" fill="#111" stroke="#111" stroke-width="0.2"><tspan>CD3</tspan><tspan dy="-1.60" font-size="4.20">+</tspan><tspan dy="1.60">CD8</tspan><tspan dy="-1.60" font-size="4.20">+</tspan><tspan dy="1.60"></tspan></text><line x1="601.02" y1="233.20" x2="601.02" y2="262.11" stroke="#111" stroke-width="0.6"/>
<text transform="translate(608.20,233.20) rotate(-90)" text-anchor="end" font-size="6" fill="#111" stroke="#111" stroke-width="0.2"><tspan>CD3</tspan><tspan dy="-1.60" font-size="4.20">+</tspan><tspan dy="1.60">CCR5</tspan><tspan dy="-1.60" font-size="4.20">+</tspan><tspan dy="1.60"></tspan></text><line x1="609.10" y1="233.20" x2="609.10" y2="266.44" stroke="#111" stroke-width="0.6"/>
<text transform="translate(616.28,233.20) rotate(-90)" text-anchor="end" font-size="6" fill="#111" stroke="#111" stroke-width="0.2"><tspan>CD4</tspan><tspan dy="-1.60" font-size="4.20">+</tspan><tspan dy="1.60">CCR5</tspan><tspan dy="-1.60" font-size="4.20">+</tspan><tspan dy="1.60"></tspan></text><line x1="617.18" y1="233.20" x2="617.18" y2="266.44" stroke="#111" stroke-width="0.6"/>
<text transform="translate(624.36,233.20) rotate(-90)" text-anchor="end" font-size="6" fill="#111" stroke="#111" stroke-width="0.2"><tspan>CD8</tspan><tspan dy="-1.60" font-size="4.20">+</tspan><tspan dy="1.60">GranB</tspan><tspan dy="-1.60" font-size="4.20">+</tspan><tspan dy="1.60"></tspan></text><line x1="625.26" y1="233.20" x2="625.26" y2="267.45" stroke="#111" stroke-width="0.6"/>
<text transform="translate(632.44,233.20) rotate(-90)" text-anchor="end" font-size="6" fill="#111" stroke="#111" stroke-width="0.2"><tspan>CD20</tspan><tspan dy="-1.60" font-size="4.20">+</tspan><tspan dy="1.60"></tspan></text><line x1="633.34" y1="233.20" x2="633.34" y2="250.99" stroke="#111" stroke-width="0.6"/>
<text transform="translate(640.52,233.20) rotate(-90)" text-anchor="end" font-size="6" fill="#3c3c3c" stroke="#3c3c3c" stroke-width="0.12"><tspan>CD3</tspan><tspan dy="-1.60" font-size="4.20">+</tspan><tspan dy="1.60"></tspan></text>
<text transform="translate(648.60,233.20) rotate(-90)" text-anchor="end" font-size="6" fill="#3c3c3c" stroke="#3c3c3c" stroke-width="0.12"><tspan>CD4</tspan><tspan dy="-1.60" font-size="4.20">+</tspan><tspan dy="1.60">CD69</tspan><tspan dy="-1.60" font-size="4.20">+</tspan><tspan dy="1.60"></tspan></text>
<text transform="translate(656.68,233.20) rotate(-90)" text-anchor="end" font-size="6" fill="#3c3c3c" stroke="#3c3c3c" stroke-width="0.12"><tspan>CD4</tspan><tspan dy="-1.60" font-size="4.20">+</tspan><tspan dy="1.60">HLA-DR</tspan><tspan dy="-1.60" font-size="4.20">+</tspan><tspan dy="1.60"></tspan></text>
<text transform="translate(664.76,233.20) rotate(-90)" text-anchor="end" font-size="6" fill="#3c3c3c" stroke="#3c3c3c" stroke-width="0.12"><tspan>CD8</tspan><tspan dy="-1.60" font-size="4.20">+</tspan><tspan dy="1.60">CCR5</tspan><tspan dy="-1.60" font-size="4.20">+</tspan><tspan dy="1.60"></tspan></text>
<text transform="translate(672.84,233.20) rotate(-90)" text-anchor="end" font-size="6" fill="#3c3c3c" stroke="#3c3c3c" stroke-width="0.12"><tspan>CD20</tspan><tspan dy="-1.60" font-size="4.20">+</tspan><tspan dy="1.60">CD69</tspan><tspan dy="-1.60" font-size="4.20">+</tspan><tspan dy="1.60"></tspan></text>
<text transform="translate(680.92,233.20) rotate(-90)" text-anchor="end" font-size="6" fill="#111" stroke="#111" stroke-width="0.2"><tspan>CD3</tspan><tspan dy="-1.60" font-size="4.20">+</tspan><tspan dy="1.60">CD4</tspan><tspan dy="-1.60" font-size="4.20">+</tspan><tspan dy="1.60"></tspan></text><line x1="681.82" y1="233.20" x2="681.82" y2="262.11" stroke="#111" stroke-width="0.6"/>
<text transform="translate(689.00,233.20) rotate(-90)" text-anchor="end" font-size="6" fill="#111" stroke="#111" stroke-width="0.2"><tspan>CD3</tspan><tspan dy="-1.60" font-size="4.20">+</tspan><tspan dy="1.60">CD69</tspan><tspan dy="-1.60" font-size="4.20">+</tspan><tspan dy="1.60"></tspan></text><line x1="689.90" y1="233.20" x2="689.90" y2="265.45" stroke="#111" stroke-width="0.6"/>
<text transform="translate(697.08,233.20) rotate(-90)" text-anchor="end" font-size="6" fill="#111" stroke="#111" stroke-width="0.2"><tspan>CD8</tspan><tspan dy="-1.60" font-size="4.20">+</tspan><tspan dy="1.60">CD69</tspan><tspan dy="-1.60" font-size="4.20">+</tspan><tspan dy="1.60"></tspan></text><line x1="697.98" y1="233.20" x2="697.98" y2="265.45" stroke="#111" stroke-width="0.6"/>
<text x="673.6" y="50.2" font-size="12.2" fill="#111" textLength="27.4" lengthAdjust="spacingAndGlyphs">CCC -</text>
<rect x="53.65" y="491.60" width="7.70" height="52.40" fill="#fbc08e"/>
<rect x="170.16" y="491.60" width="15.76" height="52.40" fill="#fbc08e"/>
<rect x="194.40" y="491.60" width="31.92" height="52.40" fill="#fbc08e"/>
<rect x="250.96" y="491.60" width="7.68" height="52.40" fill="#fbc08e"/>
<rect x="275.20" y="491.60" width="7.68" height="52.40" fill="#fbc08e"/>
<path d="M38.5,488.5 L38.5,291.5 L357,291.5" fill="none" stroke="#6e6e6e" stroke-width="1"/>
<line x1="357" y1="291.0" x2="357" y2="488.5" stroke="#8a8a8a" stroke-width="1.2"/>
<line x1="35.2" y1="488.50" x2="38.5" y2="488.50" stroke="#444" stroke-width="0.9"/>
<text x="33.30" y="491.10" text-anchor="end" font-size="8.5" fill="#222">0</text>
<line x1="35.2" y1="399.30" x2="38.5" y2="399.30" stroke="#444" stroke-width="0.9"/>
<text x="33.30" y="401.90" text-anchor="end" font-size="8.5" fill="#222">50</text>
<line x1="35.2" y1="309.00" x2="38.5" y2="309.00" stroke="#444" stroke-width="0.9"/>
<text x="33.30" y="311.60" text-anchor="end" font-size="8.5" fill="#222">100</text>
<rect x="47.90" y="402.72" width="4.50" height="85.48" fill="#fbbb7f" stroke="#6a4c2c" stroke-width="1"/>
<rect x="55.78" y="354.70" width="4.50" height="133.50" fill="#fbbb7f" stroke="#6a4c2c" stroke-width="1"/>
<text x="57.53" y="354.80" text-anchor="middle" font-size="10.5" font-weight="bold" fill="#222">*</text>
<rect x="63.66" y="443.76" width="4.50" height="44.44" fill="#fbbb7f" stroke="#6a4c2c" stroke-width="1"/>
<rect x="71.54" y="452.54" width="4.50" height="35.66" fill="#fbbb7f" stroke="#6a4c2c" stroke-width="1"/>
<rect x="79.42" y="402.72" width="4.50" height="85.48" fill="#fbbb7f" stroke="#6a4c2c" stroke-width="1"/>
<rect x="87.30" y="443.76" width="4.50" height="44.44" fill="#fbbb7f" stroke="#6a4c2c" stroke-width="1"/>
<text x="89.55" y="441.36" text-anchor="middle" font-size="6.5" font-weight="bold" fill="#222">#</text>
<rect x="95.18" y="402.72" width="4.50" height="85.48" fill="#fbbb7f" stroke="#6a4c2c" stroke-width="1"/>
<text x="97.43" y="398.22" text-anchor="middle" font-size="6.5" font-weight="bold" fill="#222">#</text>
<rect x="103.06" y="402.72" width="4.50" height="85.48" fill="#fbbb7f" stroke="#6a4c2c" stroke-width="1"/>
<text x="105.31" y="398.22" text-anchor="middle" font-size="6.5" font-weight="bold" fill="#222">#</text>
<rect x="110.94" y="443.76" width="4.50" height="44.44" fill="#fbbb7f" stroke="#6a4c2c" stroke-width="1"/>
<text x="113.19" y="441.36" text-anchor="middle" font-size="6.5" font-weight="bold" fill="#222">#</text>
<rect x="118.82" y="354.70" width="4.50" height="133.50" fill="#fbbb7f" stroke="#6a4c2c" stroke-width="1"/>
<rect x="126.70" y="402.72" width="4.50" height="85.48" fill="#fbbb7f" stroke="#6a4c2c" stroke-width="1"/>
<text x="128.95" y="398.22" text-anchor="middle" font-size="6.5" font-weight="bold" fill="#222">#</text>
<rect x="134.58" y="402.72" width="4.50" height="85.48" fill="#fbbb7f" stroke="#6a4c2c" stroke-width="1"/>
<text x="136.83" y="398.22" text-anchor="middle" font-size="6.5" font-weight="bold" fill="#222">#</text>
<rect x="142.46" y="402.72" width="4.50" height="85.48" fill="#fbbb7f" stroke="#6a4c2c" stroke-width="1"/>
<text x="144.71" y="398.22" text-anchor="middle" font-size="6.5" font-weight="bold" fill="#222">#</text>
<rect x="150.34" y="402.72" width="4.50" height="85.48" fill="#fbbb7f" stroke="#6a4c2c" stroke-width="1"/>
<text x="152.59" y="398.22" text-anchor="middle" font-size="6.5" font-weight="bold" fill="#222">#</text>
<rect x="158.22" y="402.72" width="4.50" height="85.48" fill="#fbbb7f" stroke="#6a4c2c" stroke-width="1"/>
<text x="160.47" y="398.22" text-anchor="middle" font-size="6.5" font-weight="bold" fill="#222">#</text>
<rect x="173.98" y="354.70" width="4.50" height="133.50" fill="#fbbb7f" stroke="#6a4c2c" stroke-width="1"/>
<text x="175.73" y="354.80" text-anchor="middle" font-size="10.5" font-weight="bold" fill="#222">*</text>
<rect x="181.86" y="354.70" width="4.50" height="133.50" fill="#fbbb7f" stroke="#6a4c2c" stroke-width="1"/>
<text x="183.61" y="354.80" text-anchor="middle" font-size="10.5" font-weight="bold" fill="#222">*</text>
<rect x="189.74" y="402.72" width="4.50" height="85.48" fill="#fbbb7f" stroke="#6a4c2c" stroke-width="1"/>
<rect x="197.62" y="354.70" width="4.50" height="133.50" fill="#fbbb7f" stroke="#6a4c2c" stroke-width="1"/>
<text x="199.37" y="354.80" text-anchor="middle" font-size="10.5" font-weight="bold" fill="#222">*</text>
<rect x="205.50" y="354.70" width="4.50" height="133.50" fill="#fbbb7f" stroke="#6a4c2c" stroke-width="1"/>
<text x="207.25" y="354.80" text-anchor="middle" font-size="10.5" font-weight="bold" fill="#222">*</text>
<rect x="213.38" y="354.70" width="4.50" height="133.50" fill="#fbbb7f" stroke="#6a4c2c" stroke-width="1"/>
<text x="215.13" y="354.80" text-anchor="middle" font-size="10.5" font-weight="bold" fill="#222">*</text>
<rect x="221.26" y="310.79" width="4.50" height="177.41" fill="#fbbb7f" stroke="#6a4c2c" stroke-width="1"/>
<text x="223.01" y="310.89" text-anchor="middle" font-size="10.5" font-weight="bold" fill="#222">*</text>
<rect x="229.14" y="443.76" width="4.50" height="44.44" fill="#fbbb7f" stroke="#6a4c2c" stroke-width="1"/>
<rect x="237.02" y="402.72" width="4.50" height="85.48" fill="#fbbb7f" stroke="#6a4c2c" stroke-width="1"/>
<rect x="244.90" y="443.76" width="4.50" height="44.44" fill="#fbbb7f" stroke="#6a4c2c" stroke-width="1"/>
<rect x="252.78" y="354.70" width="4.50" height="133.50" fill="#fbbb7f" stroke="#6a4c2c" stroke-width="1"/>
<text x="254.53" y="354.80" text-anchor="middle" font-size="10.5" font-weight="bold" fill="#222">*</text>
<rect x="260.66" y="402.72" width="4.50" height="85.48" fill="#fbbb7f" stroke="#6a4c2c" stroke-width="1"/>
<rect x="268.54" y="402.72" width="4.50" height="85.48" fill="#fbbb7f" stroke="#6a4c2c" stroke-width="1"/>
<rect x="276.42" y="354.70" width="4.50" height="133.50" fill="#fbbb7f" stroke="#6a4c2c" stroke-width="1"/>
<text x="278.17" y="354.80" text-anchor="middle" font-size="10.5" font-weight="bold" fill="#222">*</text>
<rect x="284.30" y="443.76" width="4.50" height="44.44" fill="#fbbb7f" stroke="#6a4c2c" stroke-width="1"/>
<text x="286.55" y="441.36" text-anchor="middle" font-size="6.5" font-weight="bold" fill="#222">#</text>
<rect x="292.18" y="402.72" width="4.50" height="85.48" fill="#fbbb7f" stroke="#6a4c2c" stroke-width="1"/>
<text x="294.43" y="398.22" text-anchor="middle" font-size="6.5" font-weight="bold" fill="#222">#</text>
<rect x="300.06" y="354.70" width="4.50" height="133.50" fill="#fbbb7f" stroke="#6a4c2c" stroke-width="1"/>
<rect x="307.94" y="354.70" width="4.50" height="133.50" fill="#fbbb7f" stroke="#6a4c2c" stroke-width="1"/>
<rect x="315.82" y="354.70" width="4.50" height="133.50" fill="#fbbb7f" stroke="#6a4c2c" stroke-width="1"/>
<rect x="323.70" y="402.72" width="4.50" height="85.48" fill="#fbbb7f" stroke="#6a4c2c" stroke-width="1"/>
<text x="325.95" y="398.22" text-anchor="middle" font-size="6.5" font-weight="bold" fill="#222">#</text>
<rect x="331.58" y="354.70" width="4.50" height="133.50" fill="#fbbb7f" stroke="#6a4c2c" stroke-width="1"/>
<rect x="339.46" y="354.70" width="4.50" height="133.50" fill="#fbbb7f" stroke="#6a4c2c" stroke-width="1"/>
<line x1="38.5" y1="399.30" x2="357" y2="399.30" stroke="#9a9a9a" stroke-width="0.8" stroke-dasharray="1.6,1.6"/>
<line x1="38.0" y1="488.5" x2="357.5" y2="488.5" stroke="#555" stroke-width="1"/>
<polyline points="50.15,437.53 58.03,429.46 65.91,409.21 73.79,409.21 81.67,409.21 89.55,389.14 97.43,389.14 105.31,389.14 113.19,389.14 121.07,386.46 128.95,376.96 136.83,369.07 144.71,369.07 152.59,369.07 160.47,369.07" fill="none" stroke="#333" stroke-width="0.8"/>
<circle cx="50.15" cy="437.53" r="2.95" fill="#fff" stroke="#333" stroke-width="0.8"/>
<circle cx="58.03" cy="429.46" r="2.95" fill="#fff" stroke="#333" stroke-width="0.8"/>
<circle cx="65.91" cy="409.21" r="2.95" fill="#fff" stroke="#333" stroke-width="0.8"/>
<circle cx="73.79" cy="409.21" r="2.95" fill="#fff" stroke="#333" stroke-width="0.8"/>
<circle cx="81.67" cy="409.21" r="2.95" fill="#fff" stroke="#333" stroke-width="0.8"/>
<circle cx="89.55" cy="389.14" r="2.95" fill="#fff" stroke="#333" stroke-width="0.8"/>
<circle cx="97.43" cy="389.14" r="2.95" fill="#fff" stroke="#333" stroke-width="0.8"/>
<circle cx="105.31" cy="389.14" r="2.95" fill="#fff" stroke="#333" stroke-width="0.8"/>
<circle cx="113.19" cy="389.14" r="2.95" fill="#fff" stroke="#333" stroke-width="0.8"/>
<circle cx="121.07" cy="386.46" r="2.95" fill="#fff" stroke="#333" stroke-width="0.8"/>
<circle cx="128.95" cy="376.96" r="2.95" fill="#fff" stroke="#333" stroke-width="0.8"/>
<circle cx="136.83" cy="369.07" r="2.95" fill="#fff" stroke="#333" stroke-width="0.8"/>
<circle cx="144.71" cy="369.07" r="2.95" fill="#fff" stroke="#333" stroke-width="0.8"/>
<circle cx="152.59" cy="369.07" r="2.95" fill="#fff" stroke="#333" stroke-width="0.8"/>
<circle cx="160.47" cy="369.07" r="2.95" fill="#fff" stroke="#333" stroke-width="0.8"/>
<polyline points="176.23,448.64 184.11,448.64 191.99,448.64 199.87,429.11 207.75,429.11 215.63,429.11 223.51,429.11 231.39,429.11 239.27,421.40 247.15,409.21 255.03,409.21 262.91,409.21 270.79,409.21 278.67,409.21 286.55,389.14 294.43,389.14 302.31,389.14 310.19,389.14 318.07,389.14 325.95,369.07 333.83,369.07 341.71,369.07" fill="none" stroke="#333" stroke-width="0.8"/>
<circle cx="176.23" cy="448.64" r="2.95" fill="#fff" stroke="#333" stroke-width="0.8"/>
<circle cx="184.11" cy="448.64" r="2.95" fill="#fff" stroke="#333" stroke-width="0.8"/>
<circle cx="191.99" cy="448.64" r="2.95" fill="#fff" stroke="#333" stroke-width="0.8"/>
<circle cx="199.87" cy="429.11" r="2.95" fill="#fff" stroke="#333" stroke-width="0.8"/>
<circle cx="207.75" cy="429.11" r="2.95" fill="#fff" stroke="#333" stroke-width="0.8"/>
<circle cx="215.63" cy="429.11" r="2.95" fill="#fff" stroke="#333" stroke-width="0.8"/>
<circle cx="223.51" cy="429.11" r="2.95" fill="#fff" stroke="#333" stroke-width="0.8"/>
<circle cx="231.39" cy="429.11" r="2.95" fill="#fff" stroke="#333" stroke-width="0.8"/>
<circle cx="239.27" cy="421.40" r="2.95" fill="#fff" stroke="#333" stroke-width="0.8"/>
<circle cx="247.15" cy="409.21" r="2.95" fill="#fff" stroke="#333" stroke-width="0.8"/>
<circle cx="255.03" cy="409.21" r="2.95" fill="#fff" stroke="#333" stroke-width="0.8"/>
<circle cx="262.91" cy="409.21" r="2.95" fill="#fff" stroke="#333" stroke-width="0.8"/>
<circle cx="270.79" cy="409.21" r="2.95" fill="#fff" stroke="#333" stroke-width="0.8"/>
<circle cx="278.67" cy="409.21" r="2.95" fill="#fff" stroke="#333" stroke-width="0.8"/>
<circle cx="286.55" cy="389.14" r="2.95" fill="#fff" stroke="#333" stroke-width="0.8"/>
<circle cx="294.43" cy="389.14" r="2.95" fill="#fff" stroke="#333" stroke-width="0.8"/>
<circle cx="302.31" cy="389.14" r="2.95" fill="#fff" stroke="#333" stroke-width="0.8"/>
<circle cx="310.19" cy="389.14" r="2.95" fill="#fff" stroke="#333" stroke-width="0.8"/>
<circle cx="318.07" cy="389.14" r="2.95" fill="#fff" stroke="#333" stroke-width="0.8"/>
<circle cx="325.95" cy="369.07" r="2.95" fill="#fff" stroke="#333" stroke-width="0.8"/>
<circle cx="333.83" cy="369.07" r="2.95" fill="#fff" stroke="#333" stroke-width="0.8"/>
<circle cx="341.71" cy="369.07" r="2.95" fill="#fff" stroke="#333" stroke-width="0.8"/>
<text transform="translate(51.50,493.20) rotate(-90)" text-anchor="end" font-size="6" fill="#3c3c3c" stroke="#3c3c3c" stroke-width="0.12"><tspan>CD14</tspan><tspan dy="-1.60" font-size="4.20">+</tspan><tspan dy="1.60">CD32</tspan><tspan dy="-1.60" font-size="4.20">+</tspan><tspan dy="1.60"></tspan></text>
<text transform="translate(59.60,493.20) rotate(-90)" text-anchor="end" font-size="6" fill="#111" stroke="#111" stroke-width="0.2"><tspan>CD16</tspan><tspan dy="-1.60" font-size="4.20">+</tspan><tspan dy="1.60">GranA</tspan><tspan dy="-1.60" font-size="4.20">+</tspan><tspan dy="1.60"></tspan></text><line x1="60.50" y1="493.20" x2="60.50" y2="530.79" stroke="#111" stroke-width="0.6"/>
<text transform="translate(67.70,493.20) rotate(-90)" text-anchor="end" font-size="6" fill="#3c3c3c" stroke="#3c3c3c" stroke-width="0.12"><tspan>CD16</tspan><tspan dy="-1.60" font-size="4.20">+</tspan><tspan dy="1.60">CD54</tspan><tspan dy="-1.60" font-size="4.20">+</tspan><tspan dy="1.60"></tspan></text>
<text transform="translate(75.80,493.20) rotate(-90)" text-anchor="end" font-size="6" fill="#3c3c3c" stroke="#3c3c3c" stroke-width="0.12"><tspan>CD3</tspan><tspan dy="-1.60" font-size="4.20">-</tspan><tspan dy="1.60">CD16</tspan><tspan dy="-1.60" font-size="4.20">+</tspan><tspan dy="1.60">CD56</tspan><tspan dy="-1.60" font-size="4.20">+</tspan><tspan dy="1.60"></tspan></text>
<text transform="translate(83.90,493.20) rotate(-90)" text-anchor="end" font-size="6" fill="#3c3c3c" stroke="#3c3c3c" stroke-width="0.12"><tspan>CD3</tspan><tspan dy="-1.60" font-size="4.20">-</tspan><tspan dy="1.60">CD16</tspan><tspan dy="-1.60" font-size="4.20">+</tspan><tspan dy="1.60">CD56</tspan><tspan dy="-1.60" font-size="4.20">-</tspan><tspan dy="1.60"></tspan></text>
<text transform="translate(92.00,493.20) rotate(-90)" text-anchor="end" font-size="6" fill="#111" stroke="#111" stroke-width="0.2"><tspan>CD16</tspan><tspan dy="-1.60" font-size="4.20">+</tspan><tspan dy="1.60">CD56</tspan><tspan dy="-1.60" font-size="4.20">+</tspan><tspan dy="1.60"></tspan></text><line x1="92.90" y1="493.20" x2="92.90" y2="528.79" stroke="#111" stroke-width="0.6"/>
<text transform="translate(100.10,493.20) rotate(-90)" text-anchor="end" font-size="6" fill="#111" stroke="#111" stroke-width="0.2"><tspan>CD16</tspan><tspan dy="-1.60" font-size="4.20">-</tspan><tspan dy="1.60">CD56</tspan><tspan dy="-1.60" font-size="4.20">+</tspan><tspan dy="1.60"></tspan></text><line x1="101.00" y1="493.20" x2="101.00" y2="527.73" stroke="#111" stroke-width="0.6"/>
<text transform="translate(108.20,493.20) rotate(-90)" text-anchor="end" font-size="6" fill="#111" stroke="#111" stroke-width="0.2"><tspan>CD16</tspan><tspan dy="-1.60" font-size="4.20">+</tspan><tspan dy="1.60">GranB</tspan><tspan dy="-1.60" font-size="4.20">+</tspan><tspan dy="1.60"></tspan></text><line x1="109.10" y1="493.20" x2="109.10" y2="530.79" stroke="#111" stroke-width="0.6"/>
<text transform="translate(116.30,493.20) rotate(-90)" text-anchor="end" font-size="6" fill="#111" stroke="#111" stroke-width="0.2"><tspan>CD3</tspan><tspan dy="-1.60" font-size="4.20">+</tspan><tspan dy="1.60">CD16</tspan><tspan dy="-1.60" font-size="4.20">+</tspan><tspan dy="1.60"></tspan></text><line x1="117.20" y1="493.20" x2="117.20" y2="525.45" stroke="#111" stroke-width="0.6"/>
<text transform="translate(124.40,493.20) rotate(-90)" text-anchor="end" font-size="6" fill="#3c3c3c" stroke="#3c3c3c" stroke-width="0.12"><tspan>CD14</tspan><tspan dy="-1.60" font-size="4.20">+</tspan><tspan dy="1.60">CD64</tspan><tspan dy="-1.60" font-size="4.20">+</tspan><tspan dy="1.60"></tspan></text>
<text transform="translate(132.50,493.20) rotate(-90)" text-anchor="end" font-size="6" fill="#111" stroke="#111" stroke-width="0.2"><tspan>CD16</tspan><tspan dy="-1.60" font-size="4.20">+</tspan><tspan dy="1.60">Perf</tspan><tspan dy="-1.60" font-size="4.20">+</tspan><tspan dy="1.60"></tspan></text><line x1="133.40" y1="493.20" x2="133.40" y2="524.45" stroke="#111" stroke-width="0.6"/>
<text transform="translate(140.60,493.20) rotate(-90)" text-anchor="end" font-size="6" fill="#111" stroke="#111" stroke-width="0.2"><tspan>CD3</tspan><tspan dy="-1.60" font-size="4.20">-</tspan><tspan dy="1.60">CD16</tspan><tspan dy="-1.60" font-size="4.20">+</tspan><tspan dy="1.60"></tspan></text><line x1="141.50" y1="493.20" x2="141.50" y2="524.39" stroke="#111" stroke-width="0.6"/>
<text transform="translate(148.70,493.20) rotate(-90)" text-anchor="end" font-size="6" fill="#111" stroke="#111" stroke-width="0.2"><tspan>CD16</tspan><tspan dy="-1.60" font-size="4.20">+</tspan><tspan dy="1.60">CD56</tspan><tspan dy="-1.60" font-size="4.20">-</tspan><tspan dy="1.60"></tspan></text><line x1="149.60" y1="493.20" x2="149.60" y2="527.73" stroke="#111" stroke-width="0.6"/>
<text transform="translate(156.80,493.20) rotate(-90)" text-anchor="end" font-size="6" fill="#111" stroke="#111" stroke-width="0.2"><tspan>CD16</tspan><tspan dy="-1.60" font-size="4.20">+</tspan><tspan dy="1.60">CD69</tspan><tspan dy="-1.60" font-size="4.20">+</tspan><tspan dy="1.60"></tspan></text><line x1="157.70" y1="493.20" x2="157.70" y2="528.79" stroke="#111" stroke-width="0.6"/>
<text transform="translate(164.90,493.20) rotate(-90)" text-anchor="end" font-size="6" fill="#111" stroke="#111" stroke-width="0.2"><tspan>CD3</tspan><tspan dy="-1.60" font-size="4.20">-</tspan><tspan dy="1.60">CD16</tspan><tspan dy="-1.60" font-size="4.20">+</tspan><tspan dy="1.60">CD56</tspan><tspan dy="-1.60" font-size="4.20">-</tspan><tspan dy="1.60"></tspan></text><line x1="165.80" y1="493.20" x2="165.80" y2="541.13" stroke="#111" stroke-width="0.6"/>
<text transform="translate(176.10,493.20) rotate(-90)" text-anchor="end" font-size="6" fill="#111" stroke="#111" stroke-width="0.2"><tspan>CD4</tspan><tspan dy="-1.60" font-size="4.20">+</tspan><tspan dy="1.60">CD54</tspan><tspan dy="-1.60" font-size="4.20">+</tspan><tspan dy="1.60"></tspan></text><line x1="177.00" y1="493.20" x2="177.00" y2="525.45" stroke="#111" stroke-width="0.6"/>
<text transform="translate(184.18,493.20) rotate(-90)" text-anchor="end" font-size="6" fill="#111" stroke="#111" stroke-width="0.2"><tspan>CD3</tspan><tspan dy="-1.60" font-size="4.20">+</tspan><tspan dy="1.60">HLA-DR</tspan><tspan dy="-1.60" font-size="4.20">+</tspan><tspan dy="1.60"></tspan></text><line x1="185.08" y1="493.20" x2="185.08" y2="532.44" stroke="#111" stroke-width="0.6"/>
<text transform="translate(192.26,493.20) rotate(-90)" text-anchor="end" font-size="6" fill="#3c3c3c" stroke="#3c3c3c" stroke-width="0.12"><tspan>CD4</tspan><tspan dy="-1.60" font-size="4.20">+</tspan><tspan dy="1.60">CD25</tspan><tspan dy="-1.60" font-size="4.20">++</tspan><tspan dy="1.60"></tspan></text>
<text transform="translate(200.34,493.20) rotate(-90)" text-anchor="end" font-size="6" fill="#111" stroke="#111" stroke-width="0.2"><tspan>CD3</tspan><tspan dy="-1.60" font-size="4.20">+</tspan><tspan dy="1.60">CD54</tspan><tspan dy="-1.60" font-size="4.20">+</tspan><tspan dy="1.60"></tspan></text><line x1="201.24" y1="493.20" x2="201.24" y2="525.45" stroke="#111" stroke-width="0.6"/>
<text transform="translate(208.42,493.20) rotate(-90)" text-anchor="end" font-size="6" fill="#111" stroke="#111" stroke-width="0.2"><tspan>CD8</tspan><tspan dy="-1.60" font-size="4.20">+</tspan><tspan dy="1.60">CD54</tspan><tspan dy="-1.60" font-size="4.20">+</tspan><tspan dy="1.60"></tspan></text><line x1="209.32" y1="493.20" x2="209.32" y2="525.45" stroke="#111" stroke-width="0.6"/>
<text transform="translate(216.50,493.20) rotate(-90)" text-anchor="end" font-size="6" fill="#111" stroke="#111" stroke-width="0.2"><tspan>CD8</tspan><tspan dy="-1.60" font-size="4.20">+</tspan><tspan dy="1.60">HLA-DR</tspan><tspan dy="-1.60" font-size="4.20">+</tspan><tspan dy="1.60"></tspan></text><line x1="217.40" y1="493.20" x2="217.40" y2="532.44" stroke="#111" stroke-width="0.6"/>
<text transform="translate(224.58,493.20) rotate(-90)" text-anchor="end" font-size="6" fill="#111" stroke="#111" stroke-width="0.2"><tspan>CD8</tspan><tspan dy="-1.60" font-size="4.20">+</tspan><tspan dy="1.60">GranA</tspan><tspan dy="-1.60" font-size="4.20">+</tspan><tspan dy="1.60"></tspan></text><line x1="225.48" y1="493.20" x2="225.48" y2="527.45" stroke="#111" stroke-width="0.6"/>
<text transform="translate(232.66,493.20) rotate(-90)" text-anchor="end" font-size="6" fill="#3c3c3c" stroke="#3c3c3c" stroke-width="0.12"><tspan>CD20</tspan><tspan dy="-1.60" font-size="4.20">+</tspan><tspan dy="1.60">CD32</tspan><tspan dy="-1.60" font-size="4.20">+</tspan><tspan dy="1.60"></tspan></text>
<text transform="translate(240.74,493.20) rotate(-90)" text-anchor="end" font-size="6" fill="#3c3c3c" stroke="#3c3c3c" stroke-width="0.12"><tspan>CD8</tspan><tspan dy="-1.60" font-size="4.20">+</tspan><tspan dy="1.60">Perf</tspan><tspan dy="-1.60" font-size="4.20">+</tspan><tspan dy="1.60"></tspan></text>
<text transform="translate(248.82,493.20) rotate(-90)" text-anchor="end" font-size="6" fill="#3c3c3c" stroke="#3c3c3c" stroke-width="0.12"><tspan>CD3</tspan><tspan dy="-1.60" font-size="4.20">+</tspan><tspan dy="1.60">CD8</tspan><tspan dy="-1.60" font-size="4.20">+</tspan><tspan dy="1.60"></tspan></text>
<text transform="translate(256.90,493.20) rotate(-90)" text-anchor="end" font-size="6" fill="#111" stroke="#111" stroke-width="0.2"><tspan>CD3</tspan><tspan dy="-1.60" font-size="4.20">+</tspan><tspan dy="1.60">CCR5</tspan><tspan dy="-1.60" font-size="4.20">+</tspan><tspan dy="1.60"></tspan></text><line x1="257.80" y1="493.20" x2="257.80" y2="526.44" stroke="#111" stroke-width="0.6"/>
<text transform="translate(264.98,493.20) rotate(-90)" text-anchor="end" font-size="6" fill="#3c3c3c" stroke="#3c3c3c" stroke-width="0.12"><tspan>CD4</tspan><tspan dy="-1.60" font-size="4.20">+</tspan><tspan dy="1.60">CCR5</tspan><tspan dy="-1.60" font-size="4.20">+</tspan><tspan dy="1.60"></tspan></text>
<text transform="translate(273.06,493.20) rotate(-90)" text-anchor="end" font-size="6" fill="#3c3c3c" stroke="#3c3c3c" stroke-width="0.12"><tspan>CD8</tspan><tspan dy="-1.60" font-size="4.20">+</tspan><tspan dy="1.60">GranB</tspan><tspan dy="-1.60" font-size="4.20">+</tspan><tspan dy="1.60"></tspan></text>
<text transform="translate(281.14,493.20) rotate(-90)" text-anchor="end" font-size="6" fill="#111" stroke="#111" stroke-width="0.2"><tspan>CD20</tspan><tspan dy="-1.60" font-size="4.20">+</tspan><tspan dy="1.60"></tspan></text><line x1="282.04" y1="493.20" x2="282.04" y2="510.99" stroke="#111" stroke-width="0.6"/>
<text transform="translate(289.22,493.20) rotate(-90)" text-anchor="end" font-size="6" fill="#111" stroke="#111" stroke-width="0.2"><tspan>CD3</tspan><tspan dy="-1.60" font-size="4.20">+</tspan><tspan dy="1.60"></tspan></text><line x1="290.12" y1="493.20" x2="290.12" y2="507.66" stroke="#111" stroke-width="0.6"/>
<text transform="translate(297.30,493.20) rotate(-90)" text-anchor="end" font-size="6" fill="#111" stroke="#111" stroke-width="0.2"><tspan>CD4</tspan><tspan dy="-1.60" font-size="4.20">+</tspan><tspan dy="1.60">CD69</tspan><tspan dy="-1.60" font-size="4.20">+</tspan><tspan dy="1.60"></tspan></text><line x1="298.20" y1="493.20" x2="298.20" y2="525.45" stroke="#111" stroke-width="0.6"/>
<text transform="translate(305.38,493.20) rotate(-90)" text-anchor="end" font-size="6" fill="#3c3c3c" stroke="#3c3c3c" stroke-width="0.12"><tspan>CD4</tspan><tspan dy="-1.60" font-size="4.20">+</tspan><tspan dy="1.60">HLA-DR</tspan><tspan dy="-1.60" font-size="4.20">+</tspan><tspan dy="1.60"></tspan></text>
<text transform="translate(313.46,493.20) rotate(-90)" text-anchor="end" font-size="6" fill="#3c3c3c" stroke="#3c3c3c" stroke-width="0.12"><tspan>CD8</tspan><tspan dy="-1.60" font-size="4.20">+</tspan><tspan dy="1.60">CCR5</tspan><tspan dy="-1.60" font-size="4.20">+</tspan><tspan dy="1.60"></tspan></text>
<text transform="translate(321.54,493.20) rotate(-90)" text-anchor="end" font-size="6" fill="#3c3c3c" stroke="#3c3c3c" stroke-width="0.12"><tspan>CD20</tspan><tspan dy="-1.60" font-size="4.20">+</tspan><tspan dy="1.60">CD69</tspan><tspan dy="-1.60" font-size="4.20">+</tspan><tspan dy="1.60"></tspan></text>
<text transform="translate(329.62,493.20) rotate(-90)" text-anchor="end" font-size="6" fill="#111" stroke="#111" stroke-width="0.2"><tspan>CD3</tspan><tspan dy="-1.60" font-size="4.20">+</tspan><tspan dy="1.60">CD4</tspan><tspan dy="-1.60" font-size="4.20">+</tspan><tspan dy="1.60"></tspan></text><line x1="330.52" y1="493.20" x2="330.52" y2="522.11" stroke="#111" stroke-width="0.6"/>
<text transform="translate(337.70,493.20) rotate(-90)" text-anchor="end" font-size="6" fill="#3c3c3c" stroke="#3c3c3c" stroke-width="0.12"><tspan>CD3</tspan><tspan dy="-1.60" font-size="4.20">+</tspan><tspan dy="1.60">CD69</tspan><tspan dy="-1.60" font-size="4.20">+</tspan><tspan dy="1.60"></tspan></text>
<text transform="translate(345.78,493.20) rotate(-90)" text-anchor="end" font-size="6" fill="#3c3c3c" stroke="#3c3c3c" stroke-width="0.12"><tspan>CD8</tspan><tspan dy="-1.60" font-size="4.20">+</tspan><tspan dy="1.60">CD69</tspan><tspan dy="-1.60" font-size="4.20">+</tspan><tspan dy="1.60"></tspan></text>
<text x="316.9" y="311.3" font-size="12.2" fill="#111" textLength="30.3" lengthAdjust="spacingAndGlyphs">CCC +</text>
<rect x="396.85" y="491.60" width="15.80" height="52.40" fill="#f27a7a"/>
<rect x="521.46" y="491.60" width="7.68" height="52.40" fill="#f27a7a"/>
<rect x="537.62" y="491.60" width="7.68" height="52.40" fill="#f27a7a"/>
<rect x="553.78" y="491.60" width="7.68" height="52.40" fill="#f27a7a"/>
<rect x="578.02" y="491.60" width="7.68" height="52.40" fill="#f27a7a"/>
<rect x="594.18" y="491.60" width="7.68" height="52.40" fill="#f27a7a"/>
<path d="M390.5,488.5 L390.5,291.5 L708.5,291.5" fill="none" stroke="#6e6e6e" stroke-width="1"/>
<line x1="708.5" y1="291.0" x2="708.5" y2="488.5" stroke="#8a8a8a" stroke-width="1.2"/>
<line x1="387.2" y1="488.50" x2="390.5" y2="488.50" stroke="#444" stroke-width="0.9"/>
<text x="385.30" y="491.10" text-anchor="end" font-size="8.5" fill="#222">0</text>
<line x1="387.2" y1="399.30" x2="390.5" y2="399.30" stroke="#444" stroke-width="0.9"/>
<text x="385.30" y="401.90" text-anchor="end" font-size="8.5" fill="#222">50</text>
<line x1="387.2" y1="309.00" x2="390.5" y2="309.00" stroke="#444" stroke-width="0.9"/>
<text x="385.30" y="311.60" text-anchor="end" font-size="8.5" fill="#222">100</text>
<rect x="399.70" y="369.57" width="4.50" height="118.63" fill="#f24242" stroke="#4c2020" stroke-width="1"/>
<text x="401.45" y="369.67" text-anchor="middle" font-size="10.5" font-weight="bold" fill="#222">*</text>
<rect x="407.58" y="340.36" width="4.50" height="147.84" fill="#f24242" stroke="#4c2020" stroke-width="1"/>
<text x="409.33" y="340.46" text-anchor="middle" font-size="10.5" font-weight="bold" fill="#222">*</text>
<rect x="415.46" y="403.08" width="4.50" height="85.12" fill="#f24242" stroke="#4c2020" stroke-width="1"/>
<rect x="423.34" y="403.08" width="4.50" height="85.12" fill="#f24242" stroke="#4c2020" stroke-width="1"/>
<rect x="431.22" y="458.63" width="4.50" height="29.57" fill="#f24242" stroke="#4c2020" stroke-width="1"/>
<rect x="439.10" y="369.57" width="4.50" height="118.63" fill="#f24242" stroke="#4c2020" stroke-width="1"/>
<rect x="446.98" y="403.08" width="4.50" height="85.12" fill="#f24242" stroke="#4c2020" stroke-width="1"/>
<text x="449.23" y="398.58" text-anchor="middle" font-size="6.5" font-weight="bold" fill="#222">#</text>
<rect x="454.86" y="403.08" width="4.50" height="85.12" fill="#f24242" stroke="#4c2020" stroke-width="1"/>
<text x="457.11" y="398.58" text-anchor="middle" font-size="6.5" font-weight="bold" fill="#222">#</text>
<rect x="462.74" y="458.63" width="4.50" height="29.57" fill="#f24242" stroke="#4c2020" stroke-width="1"/>
<text x="464.99" y="458.13" text-anchor="middle" font-size="6.5" font-weight="bold" fill="#222">#</text>
<rect x="470.62" y="452.54" width="4.50" height="35.66" fill="#f24242" stroke="#4c2020" stroke-width="1"/>
<text x="472.87" y="452.04" text-anchor="middle" font-size="6.5" font-weight="bold" fill="#222">#</text>
<rect x="478.50" y="403.08" width="4.50" height="85.12" fill="#f24242" stroke="#4c2020" stroke-width="1"/>
<text x="480.75" y="398.58" text-anchor="middle" font-size="6.5" font-weight="bold" fill="#222">#</text>
<rect x="486.38" y="403.08" width="4.50" height="85.12" fill="#f24242" stroke="#4c2020" stroke-width="1"/>
<text x="488.63" y="398.58" text-anchor="middle" font-size="6.5" font-weight="bold" fill="#222">#</text>
<rect x="494.26" y="403.08" width="4.50" height="85.12" fill="#f24242" stroke="#4c2020" stroke-width="1"/>
<text x="496.51" y="398.58" text-anchor="middle" font-size="6.5" font-weight="bold" fill="#222">#</text>
<rect x="502.14" y="428.71" width="4.50" height="59.49" fill="#f24242" stroke="#4c2020" stroke-width="1"/>
<text x="504.39" y="428.21" text-anchor="middle" font-size="6.5" font-weight="bold" fill="#222">#</text>
<rect x="510.02" y="403.08" width="4.50" height="85.12" fill="#f24242" stroke="#4c2020" stroke-width="1"/>
<text x="512.27" y="398.58" text-anchor="middle" font-size="6.5" font-weight="bold" fill="#222">#</text>
<rect x="525.78" y="369.57" width="4.50" height="118.63" fill="#f24242" stroke="#4c2020" stroke-width="1"/>
<text x="527.53" y="369.67" text-anchor="middle" font-size="10.5" font-weight="bold" fill="#222">*</text>
<rect x="533.66" y="403.08" width="4.50" height="85.12" fill="#f24242" stroke="#4c2020" stroke-width="1"/>
<rect x="541.54" y="369.57" width="4.50" height="118.63" fill="#f24242" stroke="#4c2020" stroke-width="1"/>
<text x="543.29" y="369.67" text-anchor="middle" font-size="10.5" font-weight="bold" fill="#222">*</text>
<rect x="549.42" y="403.08" width="4.50" height="85.12" fill="#f24242" stroke="#4c2020" stroke-width="1"/>
<rect x="557.30" y="369.57" width="4.50" height="118.63" fill="#f24242" stroke="#4c2020" stroke-width="1"/>
<text x="559.05" y="369.67" text-anchor="middle" font-size="10.5" font-weight="bold" fill="#222">*</text>
<rect x="565.18" y="403.08" width="4.50" height="85.12" fill="#f24242" stroke="#4c2020" stroke-width="1"/>
<rect x="573.06" y="403.08" width="4.50" height="85.12" fill="#f24242" stroke="#4c2020" stroke-width="1"/>
<rect x="580.94" y="369.57" width="4.50" height="118.63" fill="#f24242" stroke="#4c2020" stroke-width="1"/>
<text x="582.69" y="369.67" text-anchor="middle" font-size="10.5" font-weight="bold" fill="#222">*</text>
<rect x="588.82" y="403.08" width="4.50" height="85.12" fill="#f24242" stroke="#4c2020" stroke-width="1"/>
<rect x="596.70" y="369.57" width="4.50" height="118.63" fill="#f24242" stroke="#4c2020" stroke-width="1"/>
<text x="598.45" y="369.67" text-anchor="middle" font-size="10.5" font-weight="bold" fill="#222">*</text>
<rect x="604.58" y="458.63" width="4.50" height="29.57" fill="#f24242" stroke="#4c2020" stroke-width="1"/>
<rect x="612.46" y="428.71" width="4.50" height="59.49" fill="#f24242" stroke="#4c2020" stroke-width="1"/>
<rect x="620.34" y="428.71" width="4.50" height="59.49" fill="#f24242" stroke="#4c2020" stroke-width="1"/>
<rect x="628.22" y="458.63" width="4.50" height="29.57" fill="#f24242" stroke="#4c2020" stroke-width="1"/>
<rect x="636.10" y="403.08" width="4.50" height="85.12" fill="#f24242" stroke="#4c2020" stroke-width="1"/>
<text x="638.35" y="398.58" text-anchor="middle" font-size="6.5" font-weight="bold" fill="#222">#</text>
<rect x="643.98" y="458.63" width="4.50" height="29.57" fill="#f24242" stroke="#4c2020" stroke-width="1"/>
<text x="646.23" y="458.13" text-anchor="middle" font-size="6.5" font-weight="bold" fill="#222">#</text>
<rect x="651.86" y="452.54" width="4.50" height="35.66" fill="#f24242" stroke="#4c2020" stroke-width="1"/>
<text x="654.11" y="452.04" text-anchor="middle" font-size="6.5" font-weight="bold" fill="#222">#</text>
<rect x="659.74" y="458.63" width="4.50" height="29.57" fill="#f24242" stroke="#4c2020" stroke-width="1"/>
<text x="661.99" y="458.13" text-anchor="middle" font-size="6.5" font-weight="bold" fill="#222">#</text>
<rect x="667.62" y="458.63" width="4.50" height="29.57" fill="#f24242" stroke="#4c2020" stroke-width="1"/>
<text x="669.87" y="458.13" text-anchor="middle" font-size="6.5" font-weight="bold" fill="#222">#</text>
<rect x="675.50" y="371.72" width="4.50" height="116.48" fill="#f24242" stroke="#4c2020" stroke-width="1"/>
<rect x="683.38" y="458.63" width="4.50" height="29.57" fill="#f24242" stroke="#4c2020" stroke-width="1"/>
<text x="685.63" y="458.13" text-anchor="middle" font-size="6.5" font-weight="bold" fill="#222">#</text>
<rect x="691.26" y="428.71" width="4.50" height="59.49" fill="#f24242" stroke="#4c2020" stroke-width="1"/>
<text x="693.51" y="428.21" text-anchor="middle" font-size="6.5" font-weight="bold" fill="#222">#</text>
<line x1="390.5" y1="399.30" x2="708.5" y2="399.30" stroke="#9a9a9a" stroke-width="0.8" stroke-dasharray="1.6,1.6"/>
<line x1="390.0" y1="488.5" x2="709.0" y2="488.5" stroke="#555" stroke-width="1"/>
<polyline points="401.95,437.53 409.83,429.46 417.71,409.21 425.59,409.21 433.47,409.21 441.35,389.14 449.23,389.14 457.11,389.14 464.99,389.14 472.87,386.46 480.75,376.96 488.63,369.07 496.51,369.07 504.39,369.07 512.27,369.07" fill="none" stroke="#333" stroke-width="0.8"/>
<circle cx="401.95" cy="437.53" r="2.95" fill="#fff" stroke="#333" stroke-width="0.8"/>
<circle cx="409.83" cy="429.46" r="2.95" fill="#fff" stroke="#333" stroke-width="0.8"/>
<circle cx="417.71" cy="409.21" r="2.95" fill="#fff" stroke="#333" stroke-width="0.8"/>
<circle cx="425.59" cy="409.21" r="2.95" fill="#fff" stroke="#333" stroke-width="0.8"/>
<circle cx="433.47" cy="409.21" r="2.95" fill="#fff" stroke="#333" stroke-width="0.8"/>
<circle cx="441.35" cy="389.14" r="2.95" fill="#fff" stroke="#333" stroke-width="0.8"/>
<circle cx="449.23" cy="389.14" r="2.95" fill="#fff" stroke="#333" stroke-width="0.8"/>
<circle cx="457.11" cy="389.14" r="2.95" fill="#fff" stroke="#333" stroke-width="0.8"/>
<circle cx="464.99" cy="389.14" r="2.95" fill="#fff" stroke="#333" stroke-width="0.8"/>
<circle cx="472.87" cy="386.46" r="2.95" fill="#fff" stroke="#333" stroke-width="0.8"/>
<circle cx="480.75" cy="376.96" r="2.95" fill="#fff" stroke="#333" stroke-width="0.8"/>
<circle cx="488.63" cy="369.07" r="2.95" fill="#fff" stroke="#333" stroke-width="0.8"/>
<circle cx="496.51" cy="369.07" r="2.95" fill="#fff" stroke="#333" stroke-width="0.8"/>
<circle cx="504.39" cy="369.07" r="2.95" fill="#fff" stroke="#333" stroke-width="0.8"/>
<circle cx="512.27" cy="369.07" r="2.95" fill="#fff" stroke="#333" stroke-width="0.8"/>
<polyline points="528.03,448.64 535.91,448.64 543.79,448.64 551.67,429.11 559.55,429.11 567.43,429.11 575.31,429.11 583.19,429.11 591.07,421.40 598.95,409.21 606.83,409.21 614.71,409.21 622.59,409.21 630.47,409.21 638.35,389.14 646.23,389.14 654.11,389.14 661.99,389.14 669.87,389.14 677.75,369.07 685.63,369.07 693.51,369.07" fill="none" stroke="#333" stroke-width="0.8"/>
<circle cx="528.03" cy="448.64" r="2.95" fill="#fff" stroke="#333" stroke-width="0.8"/>
<circle cx="535.91" cy="448.64" r="2.95" fill="#fff" stroke="#333" stroke-width="0.8"/>
<circle cx="543.79" cy="448.64" r="2.95" fill="#fff" stroke="#333" stroke-width="0.8"/>
<circle cx="551.67" cy="429.11" r="2.95" fill="#fff" stroke="#333" stroke-width="0.8"/>
<circle cx="559.55" cy="429.11" r="2.95" fill="#fff" stroke="#333" stroke-width="0.8"/>
<circle cx="567.43" cy="429.11" r="2.95" fill="#fff" stroke="#333" stroke-width="0.8"/>
<circle cx="575.31" cy="429.11" r="2.95" fill="#fff" stroke="#333" stroke-width="0.8"/>
<circle cx="583.19" cy="429.11" r="2.95" fill="#fff" stroke="#333" stroke-width="0.8"/>
<circle cx="591.07" cy="421.40" r="2.95" fill="#fff" stroke="#333" stroke-width="0.8"/>
<circle cx="598.95" cy="409.21" r="2.95" fill="#fff" stroke="#333" stroke-width="0.8"/>
<circle cx="606.83" cy="409.21" r="2.95" fill="#fff" stroke="#333" stroke-width="0.8"/>
<circle cx="614.71" cy="409.21" r="2.95" fill="#fff" stroke="#333" stroke-width="0.8"/>
<circle cx="622.59" cy="409.21" r="2.95" fill="#fff" stroke="#333" stroke-width="0.8"/>
<circle cx="630.47" cy="409.21" r="2.95" fill="#fff" stroke="#333" stroke-width="0.8"/>
<circle cx="638.35" cy="389.14" r="2.95" fill="#fff" stroke="#333" stroke-width="0.8"/>
<circle cx="646.23" cy="389.14" r="2.95" fill="#fff" stroke="#333" stroke-width="0.8"/>
<circle cx="654.11" cy="389.14" r="2.95" fill="#fff" stroke="#333" stroke-width="0.8"/>
<circle cx="661.99" cy="389.14" r="2.95" fill="#fff" stroke="#333" stroke-width="0.8"/>
<circle cx="669.87" cy="389.14" r="2.95" fill="#fff" stroke="#333" stroke-width="0.8"/>
<circle cx="677.75" cy="369.07" r="2.95" fill="#fff" stroke="#333" stroke-width="0.8"/>
<circle cx="685.63" cy="369.07" r="2.95" fill="#fff" stroke="#333" stroke-width="0.8"/>
<circle cx="693.51" cy="369.07" r="2.95" fill="#fff" stroke="#333" stroke-width="0.8"/>
<text transform="translate(402.80,493.20) rotate(-90)" text-anchor="end" font-size="6" fill="#111" stroke="#111" stroke-width="0.2"><tspan>CD14</tspan><tspan dy="-1.60" font-size="4.20">+</tspan><tspan dy="1.60">CD32</tspan><tspan dy="-1.60" font-size="4.20">+</tspan><tspan dy="1.60"></tspan></text><line x1="403.70" y1="493.20" x2="403.70" y2="528.79" stroke="#111" stroke-width="0.6"/>
<text transform="translate(410.90,493.20) rotate(-90)" text-anchor="end" font-size="6" fill="#111" stroke="#111" stroke-width="0.2"><tspan>CD16</tspan><tspan dy="-1.60" font-size="4.20">+</tspan><tspan dy="1.60">GranA</tspan><tspan dy="-1.60" font-size="4.20">+</tspan><tspan dy="1.60"></tspan></text><line x1="411.80" y1="493.20" x2="411.80" y2="530.79" stroke="#111" stroke-width="0.6"/>
<text transform="translate(419.00,493.20) rotate(-90)" text-anchor="end" font-size="6" fill="#3c3c3c" stroke="#3c3c3c" stroke-width="0.12"><tspan>CD16</tspan><tspan dy="-1.60" font-size="4.20">+</tspan><tspan dy="1.60">CD54</tspan><tspan dy="-1.60" font-size="4.20">+</tspan><tspan dy="1.60"></tspan></text>
<text transform="translate(427.10,493.20) rotate(-90)" text-anchor="end" font-size="6" fill="#3c3c3c" stroke="#3c3c3c" stroke-width="0.12"><tspan>CD3</tspan><tspan dy="-1.60" font-size="4.20">-</tspan><tspan dy="1.60">CD16</tspan><tspan dy="-1.60" font-size="4.20">+</tspan><tspan dy="1.60">CD56</tspan><tspan dy="-1.60" font-size="4.20">+</tspan><tspan dy="1.60"></tspan></text>
<text transform="translate(435.20,493.20) rotate(-90)" text-anchor="end" font-size="6" fill="#3c3c3c" stroke="#3c3c3c" stroke-width="0.12"><tspan>CD3</tspan><tspan dy="-1.60" font-size="4.20">-</tspan><tspan dy="1.60">CD16</tspan><tspan dy="-1.60" font-size="4.20">+</tspan><tspan dy="1.60">CD56</tspan><tspan dy="-1.60" font-size="4.20">-</tspan><tspan dy="1.60"></tspan></text>
<text transform="translate(443.30,493.20) rotate(-90)" text-anchor="end" font-size="6" fill="#3c3c3c" stroke="#3c3c3c" stroke-width="0.12"><tspan>CD16</tspan><tspan dy="-1.60" font-size="4.20">+</tspan><tspan dy="1.60">CD56</tspan><tspan dy="-1.60" font-size="4.20">+</tspan><tspan dy="1.60"></tspan></text>
<text transform="translate(451.40,493.20) rotate(-90)" text-anchor="end" font-size="6" fill="#111" stroke="#111" stroke-width="0.2"><tspan>CD16</tspan><tspan dy="-1.60" font-size="4.20">-</tspan><tspan dy="1.60">CD56</tspan><tspan dy="-1.60" font-size="4.20">+</tspan><tspan dy="1.60"></tspan></text><line x1="452.30" y1="493.20" x2="452.30" y2="527.73" stroke="#111" stroke-width="0.6"/>
<text transform="translate(459.50,493.20) rotate(-90)" text-anchor="end" font-size="6" fill="#111" stroke="#111" stroke-width="0.2"><tspan>CD16</tspan><tspan dy="-1.60" font-size="4.20">+</tspan><tspan dy="1.60">GranB</tspan><tspan dy="-1.60" font-size="4.20">+</tspan><tspan dy="1.60"></tspan></text><line x1="460.40" y1="493.20" x2="460.40" y2="530.79" stroke="#111" stroke-width="0.6"/>
<text transform="translate(467.60,493.20) rotate(-90)" text-anchor="end" font-size="6" fill="#111" stroke="#111" stroke-width="0.2"><tspan>CD3</tspan><tspan dy="-1.60" font-size="4.20">+</tspan><tspan dy="1.60">CD16</tspan><tspan dy="-1.60" font-size="4.20">+</tspan><tspan dy="1.60"></tspan></text><line x1="468.50" y1="493.20" x2="468.50" y2="525.45" stroke="#111" stroke-width="0.6"/>
<text transform="translate(475.70,493.20) rotate(-90)" text-anchor="end" font-size="6" fill="#111" stroke="#111" stroke-width="0.2"><tspan>CD14</tspan><tspan dy="-1.60" font-size="4.20">+</tspan><tspan dy="1.60">CD64</tspan><tspan dy="-1.60" font-size="4.20">+</tspan><tspan dy="1.60"></tspan></text><line x1="476.60" y1="493.20" x2="476.60" y2="528.79" stroke="#111" stroke-width="0.6"/>
<text transform="translate(483.80,493.20) rotate(-90)" text-anchor="end" font-size="6" fill="#111" stroke="#111" stroke-width="0.2"><tspan>CD16</tspan><tspan dy="-1.60" font-size="4.20">+</tspan><tspan dy="1.60">Perf</tspan><tspan dy="-1.60" font-size="4.20">+</tspan><tspan dy="1.60"></tspan></text><line x1="484.70" y1="493.20" x2="484.70" y2="524.45" stroke="#111" stroke-width="0.6"/>
<text transform="translate(491.90,493.20) rotate(-90)" text-anchor="end" font-size="6" fill="#111" stroke="#111" stroke-width="0.2"><tspan>CD3</tspan><tspan dy="-1.60" font-size="4.20">-</tspan><tspan dy="1.60">CD16</tspan><tspan dy="-1.60" font-size="4.20">+</tspan><tspan dy="1.60"></tspan></text><line x1="492.80" y1="493.20" x2="492.80" y2="524.39" stroke="#111" stroke-width="0.6"/>
<text transform="translate(500.00,493.20) rotate(-90)" text-anchor="end" font-size="6" fill="#111" stroke="#111" stroke-width="0.2"><tspan>CD16</tspan><tspan dy="-1.60" font-size="4.20">+</tspan><tspan dy="1.60">CD56</tspan><tspan dy="-1.60" font-size="4.20">-</tspan><tspan dy="1.60"></tspan></text><line x1="500.90" y1="493.20" x2="500.90" y2="527.73" stroke="#111" stroke-width="0.6"/>
<text transform="translate(508.10,493.20) rotate(-90)" text-anchor="end" font-size="6" fill="#111" stroke="#111" stroke-width="0.2"><tspan>CD16</tspan><tspan dy="-1.60" font-size="4.20">+</tspan><tspan dy="1.60">CD69</tspan><tspan dy="-1.60" font-size="4.20">+</tspan><tspan dy="1.60"></tspan></text><line x1="509.00" y1="493.20" x2="509.00" y2="528.79" stroke="#111" stroke-width="0.6"/>
<text transform="translate(516.20,493.20) rotate(-90)" text-anchor="end" font-size="6" fill="#111" stroke="#111" stroke-width="0.2"><tspan>CD3</tspan><tspan dy="-1.60" font-size="4.20">-</tspan><tspan dy="1.60">CD16</tspan><tspan dy="-1.60" font-size="4.20">+</tspan><tspan dy="1.60">CD56</tspan><tspan dy="-1.60" font-size="4.20">-</tspan><tspan dy="1.60"></tspan></text><line x1="517.10" y1="493.20" x2="517.10" y2="541.13" stroke="#111" stroke-width="0.6"/>
<text transform="translate(527.40,493.20) rotate(-90)" text-anchor="end" font-size="6" fill="#111" stroke="#111" stroke-width="0.2"><tspan>CD4</tspan><tspan dy="-1.60" font-size="4.20">+</tspan><tspan dy="1.60">CD54</tspan><tspan dy="-1.60" font-size="4.20">+</tspan><tspan dy="1.60"></tspan></text><line x1="528.30" y1="493.20" x2="528.30" y2="525.45" stroke="#111" stroke-width="0.6"/>
<text transform="translate(535.48,493.20) rotate(-90)" text-anchor="end" font-size="6" fill="#3c3c3c" stroke="#3c3c3c" stroke-width="0.12"><tspan>CD3</tspan><tspan dy="-1.60" font-size="4.20">+</tspan><tspan dy="1.60">HLA-DR</tspan><tspan dy="-1.60" font-size="4.20">+</tspan><tspan dy="1.60"></tspan></text>
<text transform="translate(543.56,493.20) rotate(-90)" text-anchor="end" font-size="6" fill="#111" stroke="#111" stroke-width="0.2"><tspan>CD4</tspan><tspan dy="-1.60" font-size="4.20">+</tspan><tspan dy="1.60">CD25</tspan><tspan dy="-1.60" font-size="4.20">++</tspan><tspan dy="1.60"></tspan></text><line x1="544.46" y1="493.20" x2="544.46" y2="527.90" stroke="#111" stroke-width="0.6"/>
<text transform="translate(551.64,493.20) rotate(-90)" text-anchor="end" font-size="6" fill="#3c3c3c" stroke="#3c3c3c" stroke-width="0.12"><tspan>CD3</tspan><tspan dy="-1.60" font-size="4.20">+</tspan><tspan dy="1.60">CD54</tspan><tspan dy="-1.60" font-size="4.20">+</tspan><tspan dy="1.60"></tspan></text>
<text transform="translate(559.72,493.20) rotate(-90)" text-anchor="end" font-size="6" fill="#111" stroke="#111" stroke-width="0.2"><tspan>CD8</tspan><tspan dy="-1.60" font-size="4.20">+</tspan><tspan dy="1.60">CD54</tspan><tspan dy="-1.60" font-size="4.20">+</tspan><tspan dy="1.60"></tspan></text><line x1="560.62" y1="493.20" x2="560.62" y2="525.45" stroke="#111" stroke-width="0.6"/>
<text transform="translate(567.80,493.20) rotate(-90)" text-anchor="end" font-size="6" fill="#3c3c3c" stroke="#3c3c3c" stroke-width="0.12"><tspan>CD8</tspan><tspan dy="-1.60" font-size="4.20">+</tspan><tspan dy="1.60">HLA-DR</tspan><tspan dy="-1.60" font-size="4.20">+</tspan><tspan dy="1.60"></tspan></text>
<text transform="translate(575.88,493.20) rotate(-90)" text-anchor="end" font-size="6" fill="#3c3c3c" stroke="#3c3c3c" stroke-width="0.12"><tspan>CD8</tspan><tspan dy="-1.60" font-size="4.20">+</tspan><tspan dy="1.60">GranA</tspan><tspan dy="-1.60" font-size="4.20">+</tspan><tspan dy="1.60"></tspan></text>
<text transform="translate(583.96,493.20) rotate(-90)" text-anchor="end" font-size="6" fill="#111" stroke="#111" stroke-width="0.2"><tspan>CD20</tspan><tspan dy="-1.60" font-size="4.20">+</tspan><tspan dy="1.60">CD32</tspan><tspan dy="-1.60" font-size="4.20">+</tspan><tspan dy="1.60"></tspan></text><line x1="584.86" y1="493.20" x2="584.86" y2="528.79" stroke="#111" stroke-width="0.6"/>
<text transform="translate(592.04,493.20) rotate(-90)" text-anchor="end" font-size="6" fill="#3c3c3c" stroke="#3c3c3c" stroke-width="0.12"><tspan>CD8</tspan><tspan dy="-1.60" font-size="4.20">+</tspan><tspan dy="1.60">Perf</tspan><tspan dy="-1.60" font-size="4.20">+</tspan><tspan dy="1.60"></tspan></text>
<text transform="translate(600.12,493.20) rotate(-90)" text-anchor="end" font-size="6" fill="#111" stroke="#111" stroke-width="0.2"><tspan>CD3</tspan><tspan dy="-1.60" font-size="4.20">+</tspan><tspan dy="1.60">CD8</tspan><tspan dy="-1.60" font-size="4.20">+</tspan><tspan dy="1.60"></tspan></text><line x1="601.02" y1="493.20" x2="601.02" y2="522.11" stroke="#111" stroke-width="0.6"/>
<text transform="translate(608.20,493.20) rotate(-90)" text-anchor="end" font-size="6" fill="#3c3c3c" stroke="#3c3c3c" stroke-width="0.12"><tspan>CD3</tspan><tspan dy="-1.60" font-size="4.20">+</tspan><tspan dy="1.60">CCR5</tspan><tspan dy="-1.60" font-size="4.20">+</tspan><tspan dy="1.60"></tspan></text>
<text transform="translate(616.28,493.20) rotate(-90)" text-anchor="end" font-size="6" fill="#3c3c3c" stroke="#3c3c3c" stroke-width="0.12"><tspan>CD4</tspan><tspan dy="-1.60" font-size="4.20">+</tspan><tspan dy="1.60">CCR5</tspan><tspan dy="-1.60" font-size="4.20">+</tspan><tspan dy="1.60"></tspan></text>
<text transform="translate(624.36,493.20) rotate(-90)" text-anchor="end" font-size="6" fill="#3c3c3c" stroke="#3c3c3c" stroke-width="0.12"><tspan>CD8</tspan><tspan dy="-1.60" font-size="4.20">+</tspan><tspan dy="1.60">GranB</tspan><tspan dy="-1.60" font-size="4.20">+</tspan><tspan dy="1.60"></tspan></text>
<text transform="translate(632.44,493.20) rotate(-90)" text-anchor="end" font-size="6" fill="#3c3c3c" stroke="#3c3c3c" stroke-width="0.12"><tspan>CD20</tspan><tspan dy="-1.60" font-size="4.20">+</tspan><tspan dy="1.60"></tspan></text>
<text transform="translate(640.52,493.20) rotate(-90)" text-anchor="end" font-size="6" fill="#111" stroke="#111" stroke-width="0.2"><tspan>CD3</tspan><tspan dy="-1.60" font-size="4.20">+</tspan><tspan dy="1.60"></tspan></text><line x1="641.42" y1="493.20" x2="641.42" y2="507.66" stroke="#111" stroke-width="0.6"/>
<text transform="translate(648.60,493.20) rotate(-90)" text-anchor="end" font-size="6" fill="#111" stroke="#111" stroke-width="0.2"><tspan>CD4</tspan><tspan dy="-1.60" font-size="4.20">+</tspan><tspan dy="1.60">CD69</tspan><tspan dy="-1.60" font-size="4.20">+</tspan><tspan dy="1.60"></tspan></text><line x1="649.50" y1="493.20" x2="649.50" y2="525.45" stroke="#111" stroke-width="0.6"/>
<text transform="translate(656.68,493.20) rotate(-90)" text-anchor="end" font-size="6" fill="#111" stroke="#111" stroke-width="0.2"><tspan>CD4</tspan><tspan dy="-1.60" font-size="4.20">+</tspan><tspan dy="1.60">HLA-DR</tspan><tspan dy="-1.60" font-size="4.20">+</tspan><tspan dy="1.60"></tspan></text><line x1="657.58" y1="493.20" x2="657.58" y2="532.44" stroke="#111" stroke-width="0.6"/>
<text transform="translate(664.76,493.20) rotate(-90)" text-anchor="end" font-size="6" fill="#111" stroke="#111" stroke-width="0.2"><tspan>CD8</tspan><tspan dy="-1.60" font-size="4.20">+</tspan><tspan dy="1.60">CCR5</tspan><tspan dy="-1.60" font-size="4.20">+</tspan><tspan dy="1.60"></tspan></text><line x1="665.66" y1="493.20" x2="665.66" y2="526.44" stroke="#111" stroke-width="0.6"/>
<text transform="translate(672.84,493.20) rotate(-90)" text-anchor="end" font-size="6" fill="#111" stroke="#111" stroke-width="0.2"><tspan>CD20</tspan><tspan dy="-1.60" font-size="4.20">+</tspan><tspan dy="1.60">CD69</tspan><tspan dy="-1.60" font-size="4.20">+</tspan><tspan dy="1.60"></tspan></text><line x1="673.74" y1="493.20" x2="673.74" y2="528.79" stroke="#111" stroke-width="0.6"/>
<text transform="translate(680.92,493.20) rotate(-90)" text-anchor="end" font-size="6" fill="#3c3c3c" stroke="#3c3c3c" stroke-width="0.12"><tspan>CD3</tspan><tspan dy="-1.60" font-size="4.20">+</tspan><tspan dy="1.60">CD4</tspan><tspan dy="-1.60" font-size="4.20">+</tspan><tspan dy="1.60"></tspan></text>
<text transform="translate(689.00,493.20) rotate(-90)" text-anchor="end" font-size="6" fill="#111" stroke="#111" stroke-width="0.2"><tspan>CD3</tspan><tspan dy="-1.60" font-size="4.20">+</tspan><tspan dy="1.60">CD69</tspan><tspan dy="-1.60" font-size="4.20">+</tspan><tspan dy="1.60"></tspan></text><line x1="689.90" y1="493.20" x2="689.90" y2="525.45" stroke="#111" stroke-width="0.6"/>
<text transform="translate(697.08,493.20) rotate(-90)" text-anchor="end" font-size="6" fill="#111" stroke="#111" stroke-width="0.2"><tspan>CD8</tspan><tspan dy="-1.60" font-size="4.20">+</tspan><tspan dy="1.60">CD69</tspan><tspan dy="-1.60" font-size="4.20">+</tspan><tspan dy="1.60"></tspan></text><line x1="697.98" y1="493.20" x2="697.98" y2="525.45" stroke="#111" stroke-width="0.6"/>
<text x="664.8" y="311.3" font-size="12.2" fill="#111" textLength="36.4" lengthAdjust="spacingAndGlyphs">CCC ++</text>
<line x1="54.5" y1="547.3" x2="182.4" y2="547.3" stroke="#555" stroke-width="0.9"/>
<line x1="189.4" y1="547.3" x2="351.4" y2="547.3" stroke="#555" stroke-width="0.9"/>
<line x1="389" y1="547.3" x2="515.5" y2="547.3" stroke="#555" stroke-width="0.9"/>
<line x1="520.6" y1="547.3" x2="704" y2="547.3" stroke="#555" stroke-width="0.9"/>
<text x="97.3" y="557.9" font-size="8.3" fill="#151515" textLength="58.8" lengthAdjust="spacingAndGlyphs">Innate Immunity</text>
<text x="238.8" y="557.9" font-size="8.3" fill="#151515" textLength="67.2" lengthAdjust="spacingAndGlyphs">Adaptive Immunity</text>
<text x="431.7" y="557.9" font-size="8.3" fill="#151515" textLength="58.6" lengthAdjust="spacingAndGlyphs">Innate Immunity</text>
<text x="587" y="557.9" font-size="8.3" fill="#151515" textLength="67.9" lengthAdjust="spacingAndGlyphs">Adaptive Immunity</text>
<text x="243.7" y="572.7" font-size="8.3" fill="#151515" textLength="242.5" lengthAdjust="spacingAndGlyphs">Ascendant Phenotypic Signature According to Non-infected Controls</text>
<line x1="45.4" y1="566.8" x2="220.8" y2="566.8" stroke="#3a3a3a" stroke-width="1.5"/>
<line x1="509" y1="567.1" x2="675" y2="567.1" stroke="#3a3a3a" stroke-width="1.5"/>
<path d="M673,564.9 L683.7,567.1 L673,569.3 Z" fill="#222"/>
</svg>
</body></html>
